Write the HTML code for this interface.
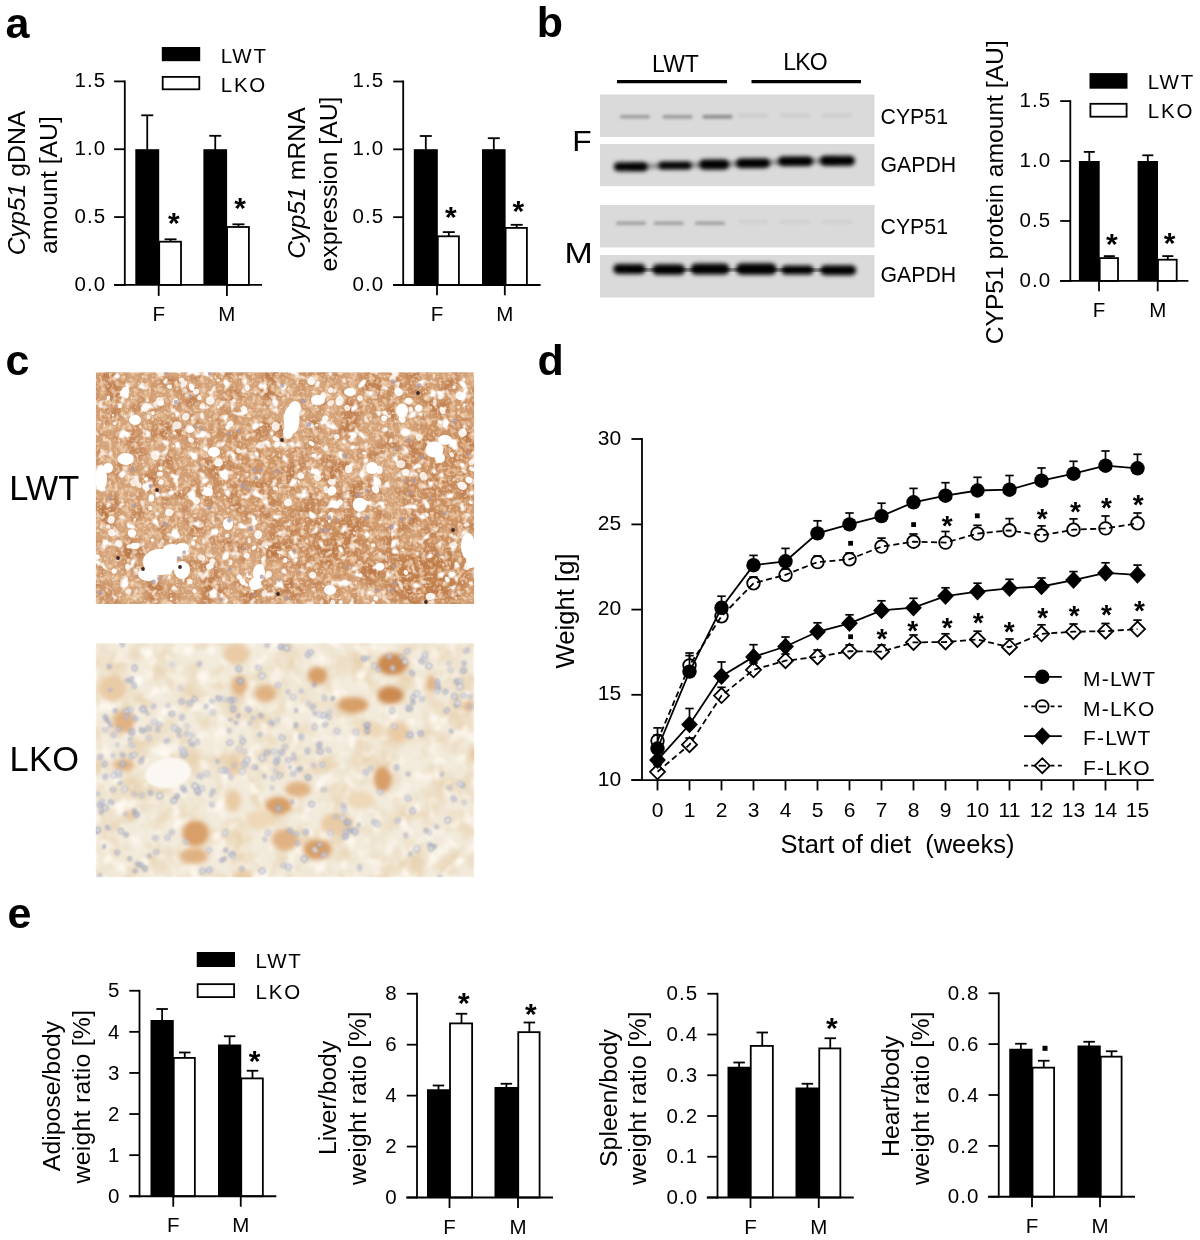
<!DOCTYPE html>
<html><head><meta charset="utf-8"><title>Figure</title>
<style>
html,body{margin:0;padding:0;background:#fff;overflow:hidden;}
svg{display:block;}
text{font-family:"Liberation Sans",Arial,sans-serif;fill:#000;}
</style></head><body>
<svg width="1200" height="1240" viewBox="0 0 1200 1240">
<defs>
<filter id="b1" x="-20%" y="-80%" width="140%" height="260%"><feGaussianBlur stdDeviation="1.9"/></filter>
<filter id="b7" x="-20%" y="-150%" width="140%" height="400%"><feGaussianBlur stdDeviation="1.7"/></filter>
<filter id="b2" x="-20%" y="-50%" width="140%" height="200%"><feGaussianBlur stdDeviation="1.2"/></filter>
<filter id="b3" x="-20%" y="-20%" width="140%" height="140%"><feGaussianBlur stdDeviation="0.7"/></filter>
<filter id="b4" x="-30%" y="-30%" width="160%" height="160%"><feGaussianBlur stdDeviation="2.2"/></filter>
<filter id="b5" x="-50%" y="-50%" width="200%" height="200%"><feGaussianBlur stdDeviation="9"/></filter>

<filter id="tw" x="0" y="0" width="100%" height="100%" color-interpolation-filters="sRGB">
<feTurbulence type="fractalNoise" baseFrequency="0.1" numOctaves="2" seed="11"/>
<feColorMatrix type="matrix" values="0 0 0 0 1  0 0 0 0 1  0 0 0 0 1  0 0 0 6 -3.55"/>
</filter>
<filter id="td" x="0" y="0" width="100%" height="100%" color-interpolation-filters="sRGB">
<feTurbulence type="fractalNoise" baseFrequency="0.05" numOctaves="2" seed="4"/>
<feColorMatrix type="matrix" values="0 0 0 0 0.74  0 0 0 0 0.48  0 0 0 0 0.29  0 0 0 2.8 -1.2"/>
</filter>
<filter id="tl" x="0" y="0" width="100%" height="100%" color-interpolation-filters="sRGB">
<feTurbulence type="fractalNoise" baseFrequency="0.16" numOctaves="2" seed="23"/>
<feColorMatrix type="matrix" values="0 0 0 0 0.93  0 0 0 0 0.80  0 0 0 0 0.67  0 0 0 3 -1.45"/>
</filter>
<filter id="tf" x="0" y="0" width="100%" height="100%" color-interpolation-filters="sRGB">
<feTurbulence type="fractalNoise" baseFrequency="0.33" numOctaves="2" seed="57"/>
<feColorMatrix type="matrix" values="0 0 0 0 1  0 0 0 0 0.94  0 0 0 0 0.87  0 0 0 2.6 -1.42"/>
</filter>
<filter id="b8" x="0" y="0" width="100%" height="100%"><feGaussianBlur stdDeviation="0.8"/></filter>
<filter id="b6" x="0" y="0" width="100%" height="100%"><feGaussianBlur stdDeviation="0.55"/></filter>
<filter id="kb" x="0" y="0" width="100%" height="100%" color-interpolation-filters="sRGB">
<feTurbulence type="fractalNoise" baseFrequency="0.04" numOctaves="3" seed="8"/>
<feColorMatrix type="matrix" values="0 0 0 0 0.91  0 0 0 0 0.83  0 0 0 0 0.70  0 0 0 2.4 -0.95"/>
</filter>
<filter id="kw" x="0" y="0" width="100%" height="100%" color-interpolation-filters="sRGB">
<feTurbulence type="fractalNoise" baseFrequency="0.07" numOctaves="2" seed="31"/>
<feColorMatrix type="matrix" values="0 0 0 0 1  0 0 0 0 0.98  0 0 0 0 0.95  0 0 0 3 -1.5"/>
</filter>

<clipPath id="cl1"><rect x="95.8" y="372.2" width="378.4" height="231.8"/></clipPath>
<clipPath id="cl2"><rect x="95.8" y="643" width="378.4" height="234.2"/></clipPath>
</defs>
<rect width="1200" height="1240" fill="#fff"/>

<text x="5.50" y="37.80" font-size="43" font-weight="bold">a</text>
<text x="536.80" y="37.30" font-size="43" font-weight="bold">b</text>
<text x="5.50" y="375.00" font-size="43" font-weight="bold">c</text>
<text x="537.60" y="375.40" font-size="43" font-weight="bold">d</text>
<text x="7.50" y="928.00" font-size="43" font-weight="bold">e</text>
<line x1="147.25" y1="115.30" x2="147.25" y2="150.20" stroke="#000" stroke-width="1.8"/>
<line x1="141.25" y1="115.30" x2="153.25" y2="115.30" stroke="#000" stroke-width="1.8"/>
<rect x="135.30" y="149.20" width="23.90" height="135.70" fill="#000"/>
<line x1="170.55" y1="239.30" x2="170.55" y2="241.80" stroke="#000" stroke-width="1.8"/>
<line x1="164.55" y1="239.30" x2="176.55" y2="239.30" stroke="#000" stroke-width="1.8"/>
<rect x="159.20" y="241.70" width="21.80" height="43.20" fill="#fff" stroke="#000" stroke-width="1.8"/>
<line x1="215.25" y1="135.80" x2="215.25" y2="150.20" stroke="#000" stroke-width="1.8"/>
<line x1="209.25" y1="135.80" x2="221.25" y2="135.80" stroke="#000" stroke-width="1.8"/>
<rect x="203.40" y="149.20" width="23.70" height="135.70" fill="#000"/>
<line x1="238.45" y1="224.30" x2="238.45" y2="227.10" stroke="#000" stroke-width="1.8"/>
<line x1="232.45" y1="224.30" x2="244.45" y2="224.30" stroke="#000" stroke-width="1.8"/>
<rect x="227.10" y="227.00" width="21.80" height="57.90" fill="#fff" stroke="#000" stroke-width="1.8"/>
<line x1="124.80" y1="80.50" x2="124.80" y2="285.80" stroke="#000" stroke-width="1.8"/>
<line x1="114.20" y1="284.90" x2="262.00" y2="284.90" stroke="#000" stroke-width="1.8"/>
<line x1="114.10" y1="284.90" x2="124.80" y2="284.90" stroke="#000" stroke-width="1.8"/>
<text x="106.40" y="290.64" font-size="20.5" text-anchor="end" letter-spacing="1.1">0.0</text>
<line x1="114.10" y1="217.07" x2="124.80" y2="217.07" stroke="#000" stroke-width="1.8"/>
<text x="106.40" y="222.81" font-size="20.5" text-anchor="end" letter-spacing="1.1">0.5</text>
<line x1="114.10" y1="149.23" x2="124.80" y2="149.23" stroke="#000" stroke-width="1.8"/>
<text x="106.40" y="154.97" font-size="20.5" text-anchor="end" letter-spacing="1.1">1.0</text>
<line x1="114.10" y1="81.40" x2="124.80" y2="81.40" stroke="#000" stroke-width="1.8"/>
<text x="106.40" y="87.14" font-size="20.5" text-anchor="end" letter-spacing="1.1">1.5</text>
<line x1="158.70" y1="284.90" x2="158.70" y2="295.90" stroke="#000" stroke-width="1.8"/>
<text x="158.70" y="321.10" font-size="20.5" text-anchor="middle">F</text>
<line x1="226.90" y1="284.90" x2="226.90" y2="295.90" stroke="#000" stroke-width="1.8"/>
<text x="226.90" y="321.10" font-size="20.5" text-anchor="middle">M</text>
<text x="173.85" y="233.40" font-size="30" text-anchor="middle" font-weight="bold">*</text>
<text x="240.05" y="218.10" font-size="30" text-anchor="middle" font-weight="bold">*</text>
<rect x="161.8" y="47" width="38.39999999999998" height="14.200000000000003" fill="#000"/>
<rect x="162.70000000000002" y="76.9" width="36.59999999999998" height="12.400000000000002" fill="#fff" stroke="#000" stroke-width="1.8"/>
<text x="220.70" y="62.60" font-size="20.5" letter-spacing="1.8">LWT</text>
<text x="220.70" y="91.60" font-size="20.5" letter-spacing="1.8">LKO</text>
<text x="24.80" y="183.00" font-size="24.8" text-anchor="middle" transform="rotate(-90 24.8 183)"><tspan font-style="italic">Cyp51</tspan> gDNA</text>
<text x="57.10" y="185.00" font-size="24.8" text-anchor="middle" transform="rotate(-90 57.1 185)">amount [AU]</text>
<line x1="425.80" y1="136.00" x2="425.80" y2="150.20" stroke="#000" stroke-width="1.8"/>
<line x1="419.80" y1="136.00" x2="431.80" y2="136.00" stroke="#000" stroke-width="1.8"/>
<rect x="413.80" y="149.20" width="24.00" height="135.80" fill="#000"/>
<line x1="448.80" y1="232.10" x2="448.80" y2="236.40" stroke="#000" stroke-width="1.8"/>
<line x1="442.80" y1="232.10" x2="454.80" y2="232.10" stroke="#000" stroke-width="1.8"/>
<rect x="437.80" y="236.30" width="21.10" height="48.70" fill="#fff" stroke="#000" stroke-width="1.8"/>
<line x1="493.80" y1="138.20" x2="493.80" y2="150.20" stroke="#000" stroke-width="1.8"/>
<line x1="487.80" y1="138.20" x2="499.80" y2="138.20" stroke="#000" stroke-width="1.8"/>
<rect x="482.00" y="149.20" width="23.60" height="135.80" fill="#000"/>
<line x1="516.70" y1="224.80" x2="516.70" y2="228.00" stroke="#000" stroke-width="1.8"/>
<line x1="510.70" y1="224.80" x2="522.70" y2="224.80" stroke="#000" stroke-width="1.8"/>
<rect x="505.60" y="227.90" width="21.30" height="57.10" fill="#fff" stroke="#000" stroke-width="1.8"/>
<line x1="403.20" y1="80.50" x2="403.20" y2="285.90" stroke="#000" stroke-width="1.8"/>
<line x1="393.20" y1="285.00" x2="540.60" y2="285.00" stroke="#000" stroke-width="1.8"/>
<line x1="393.20" y1="285.00" x2="403.20" y2="285.00" stroke="#000" stroke-width="1.8"/>
<text x="384.30" y="290.74" font-size="20.5" text-anchor="end" letter-spacing="1.1">0.0</text>
<line x1="393.20" y1="217.17" x2="403.20" y2="217.17" stroke="#000" stroke-width="1.8"/>
<text x="384.30" y="222.91" font-size="20.5" text-anchor="end" letter-spacing="1.1">0.5</text>
<line x1="393.20" y1="149.33" x2="403.20" y2="149.33" stroke="#000" stroke-width="1.8"/>
<text x="384.30" y="155.07" font-size="20.5" text-anchor="end" letter-spacing="1.1">1.0</text>
<line x1="393.20" y1="81.50" x2="403.20" y2="81.50" stroke="#000" stroke-width="1.8"/>
<text x="384.30" y="87.24" font-size="20.5" text-anchor="end" letter-spacing="1.1">1.5</text>
<line x1="437.00" y1="285.00" x2="437.00" y2="295.30" stroke="#000" stroke-width="1.8"/>
<text x="437.00" y="321.20" font-size="20.5" text-anchor="middle">F</text>
<line x1="504.80" y1="285.00" x2="504.80" y2="295.30" stroke="#000" stroke-width="1.8"/>
<text x="504.80" y="321.20" font-size="20.5" text-anchor="middle">M</text>
<text x="450.80" y="227.40" font-size="30" text-anchor="middle" font-weight="bold">*</text>
<text x="518.35" y="220.50" font-size="30" text-anchor="middle" font-weight="bold">*</text>
<text x="304.80" y="183.00" font-size="24.8" text-anchor="middle" transform="rotate(-90 304.8 183)"><tspan font-style="italic">Cyp51</tspan> mRNA</text>
<text x="337.10" y="184.00" font-size="24.8" text-anchor="middle" transform="rotate(-90 337.1 184)">expression [AU]</text>
<rect x="600" y="94.5" width="274.5" height="42.5" fill="#dadada"/>
<rect x="600" y="144" width="274.5" height="42.19999999999999" fill="#dadada"/>
<rect x="600" y="205" width="274.5" height="42.5" fill="#dadada"/>
<rect x="600" y="255" width="274.5" height="42.5" fill="#dadada"/>
<polyline points="630.75,166.75 675,165.5 714.25,164.5 753,163.25 795.5,161.25 837.5,160.75" fill="none" stroke="#8a8a8a" stroke-width="5" filter="url(#b1)"/>
<polyline points="629.5,269 668.75,269.5 710,269 756.25,269 797.5,270 838.25,270.25" fill="none" stroke="#777" stroke-width="6" filter="url(#b1)"/>
<rect x="613.8" y="162.2" width="34" height="9" rx="4.5" fill="#050505" filter="url(#b1)"/>
<rect x="658.5" y="161.8" width="33" height="7.5" rx="3.75" fill="#050505" filter="url(#b1)"/>
<rect x="699.2" y="159.5" width="30" height="10" rx="5.0" fill="#050505" filter="url(#b1)"/>
<rect x="736.0" y="158.5" width="34" height="9.5" rx="4.75" fill="#050505" filter="url(#b1)"/>
<rect x="778.0" y="156.5" width="35" height="9.5" rx="4.75" fill="#050505" filter="url(#b1)"/>
<rect x="820.0" y="155.8" width="35" height="10" rx="5.0" fill="#050505" filter="url(#b1)"/>
<rect x="613.2" y="264.0" width="32.5" height="10" rx="5.0" fill="#050505" filter="url(#b1)"/>
<rect x="652.2" y="264.2" width="33" height="10.5" rx="5.25" fill="#050505" filter="url(#b1)"/>
<rect x="690.5" y="263.5" width="39" height="11" rx="5.5" fill="#050505" filter="url(#b1)"/>
<rect x="735.8" y="263.2" width="41" height="11.5" rx="5.75" fill="#050505" filter="url(#b1)"/>
<rect x="781.2" y="265.5" width="32.5" height="9" rx="4.5" fill="#050505" filter="url(#b1)"/>
<rect x="820.2" y="265.2" width="36" height="10" rx="5.0" fill="#050505" filter="url(#b1)"/>
<rect x="620" y="115" width="30" height="3.6" rx="1.5" fill="#9c9c9c" filter="url(#b7)"/>
<rect x="662.5" y="115" width="30" height="3.6" rx="1.5" fill="#989898" filter="url(#b7)"/>
<rect x="702.5" y="115" width="30" height="3.6" rx="1.5" fill="#888" filter="url(#b7)"/>
<rect x="616" y="221.5" width="30" height="3.6" rx="1.5" fill="#a0a0a0" filter="url(#b7)"/>
<rect x="653.75" y="221.5" width="30" height="3.6" rx="1.5" fill="#a0a0a0" filter="url(#b7)"/>
<rect x="695" y="221.5" width="30" height="3.6" rx="1.5" fill="#a0a0a0" filter="url(#b7)"/>
<rect x="738" y="113.5" width="30" height="4" rx="1.5" fill="#cdcdcd" filter="url(#b7)"/>
<rect x="738" y="219.8" width="30" height="4" rx="1.5" fill="#d0d0d0" filter="url(#b7)"/>
<rect x="780" y="113.5" width="30" height="4" rx="1.5" fill="#cdcdcd" filter="url(#b7)"/>
<rect x="780" y="219.8" width="30" height="4" rx="1.5" fill="#d0d0d0" filter="url(#b7)"/>
<rect x="822" y="113.5" width="30" height="4" rx="1.5" fill="#cdcdcd" filter="url(#b7)"/>
<rect x="822" y="219.8" width="30" height="4" rx="1.5" fill="#d0d0d0" filter="url(#b7)"/>
<line x1="617.00" y1="81.70" x2="727.00" y2="81.70" stroke="#000" stroke-width="3.2"/>
<line x1="751.50" y1="81.70" x2="861.00" y2="81.70" stroke="#000" stroke-width="3.2"/>
<text x="675.50" y="72.00" font-size="23" text-anchor="middle">LWT</text>
<text x="805.00" y="70.00" font-size="23" text-anchor="middle" letter-spacing="-0.9">LKO</text>
<text x="880.50" y="124.00" font-size="21.3">CYP51</text>
<text x="880.50" y="172.00" font-size="21.3">GAPDH</text>
<text x="880.50" y="234.00" font-size="21.3">CYP51</text>
<text x="880.50" y="282.00" font-size="21.3">GAPDH</text>
<text x="572.20" y="151.20" font-size="29.5" textLength="19.4" lengthAdjust="spacingAndGlyphs">F</text>
<text x="564.50" y="262.50" font-size="29.5" textLength="28.2" lengthAdjust="spacingAndGlyphs">M</text>
<line x1="1089.30" y1="151.90" x2="1089.30" y2="162.00" stroke="#000" stroke-width="1.8"/>
<line x1="1083.80" y1="151.90" x2="1094.80" y2="151.90" stroke="#000" stroke-width="1.8"/>
<rect x="1078.90" y="161.00" width="20.80" height="119.90" fill="#000"/>
<line x1="1109.30" y1="256.10" x2="1109.30" y2="258.20" stroke="#000" stroke-width="1.8"/>
<line x1="1103.80" y1="256.10" x2="1114.80" y2="256.10" stroke="#000" stroke-width="1.8"/>
<rect x="1099.70" y="258.10" width="18.30" height="22.80" fill="#fff" stroke="#000" stroke-width="1.8"/>
<line x1="1147.80" y1="155.30" x2="1147.80" y2="162.00" stroke="#000" stroke-width="1.8"/>
<line x1="1142.30" y1="155.30" x2="1153.30" y2="155.30" stroke="#000" stroke-width="1.8"/>
<rect x="1137.60" y="161.00" width="20.40" height="119.90" fill="#000"/>
<line x1="1167.80" y1="256.10" x2="1167.80" y2="259.80" stroke="#000" stroke-width="1.8"/>
<line x1="1162.30" y1="256.10" x2="1173.30" y2="256.10" stroke="#000" stroke-width="1.8"/>
<rect x="1158.00" y="259.70" width="18.70" height="21.20" fill="#fff" stroke="#000" stroke-width="1.8"/>
<line x1="1070.30" y1="100.20" x2="1070.30" y2="281.80" stroke="#000" stroke-width="1.8"/>
<line x1="1060.20" y1="280.90" x2="1188.40" y2="280.90" stroke="#000" stroke-width="1.8"/>
<line x1="1060.20" y1="280.90" x2="1070.30" y2="280.90" stroke="#000" stroke-width="1.8"/>
<text x="1051.30" y="286.64" font-size="20.5" text-anchor="end" letter-spacing="1.1">0.0</text>
<line x1="1060.20" y1="220.97" x2="1070.30" y2="220.97" stroke="#000" stroke-width="1.8"/>
<text x="1051.30" y="226.71" font-size="20.5" text-anchor="end" letter-spacing="1.1">0.5</text>
<line x1="1060.20" y1="161.03" x2="1070.30" y2="161.03" stroke="#000" stroke-width="1.8"/>
<text x="1051.30" y="166.77" font-size="20.5" text-anchor="end" letter-spacing="1.1">1.0</text>
<line x1="1060.20" y1="101.10" x2="1070.30" y2="101.10" stroke="#000" stroke-width="1.8"/>
<text x="1051.30" y="106.84" font-size="20.5" text-anchor="end" letter-spacing="1.1">1.5</text>
<line x1="1099.00" y1="280.90" x2="1099.00" y2="291.30" stroke="#000" stroke-width="1.8"/>
<text x="1099.00" y="317.10" font-size="20.5" text-anchor="middle">F</text>
<line x1="1157.70" y1="280.90" x2="1157.70" y2="291.30" stroke="#000" stroke-width="1.8"/>
<text x="1157.70" y="317.10" font-size="20.5" text-anchor="middle">M</text>
<text x="1111.90" y="254.10" font-size="30" text-anchor="middle" font-weight="bold">*</text>
<text x="1169.70" y="253.00" font-size="30" text-anchor="middle" font-weight="bold">*</text>
<rect x="1089.5" y="73.1" width="38.0" height="15.600000000000009" fill="#000"/>
<rect x="1090.4" y="103.80000000000001" width="36.2" height="12.899999999999988" fill="#fff" stroke="#000" stroke-width="1.8"/>
<text x="1147.80" y="89.40" font-size="20.5" letter-spacing="1.8">LWT</text>
<text x="1147.80" y="118.30" font-size="20.5" letter-spacing="1.8">LKO</text>
<text x="1002.80" y="192.30" font-size="24.65" text-anchor="middle" transform="rotate(-90 1002.8 192.3)">CYP51 protein amount [AU]</text>
<text x="9.20" y="499.60" font-size="34.4">LWT</text>
<text x="9.50" y="771.40" font-size="34.4" letter-spacing="0.4">LKO</text>
<g clip-path="url(#cl1)"><g filter="url(#b6)">
<rect x="95.8" y="372.2" width="378.4" height="231.8" fill="#d5a379"/>
<ellipse cx="425" cy="575" rx="45" ry="30" fill="#b86f38" opacity="0.7" filter="url(#b5)"/>
<ellipse cx="445" cy="470" rx="30" ry="60" fill="#bf7a44" opacity="0.5" filter="url(#b5)"/>
<ellipse cx="330" cy="540" rx="50" ry="40" fill="#c07c46" opacity="0.5" filter="url(#b5)"/>
<ellipse cx="250" cy="470" rx="40" ry="40" fill="#c4834e" opacity="0.4" filter="url(#b5)"/>
<ellipse cx="400" cy="390" rx="40" ry="20" fill="#c4834e" opacity="0.4" filter="url(#b5)"/>
<rect x="95.8" y="372.2" width="378.4" height="231.8" filter="url(#td)"/>
<rect x="95.8" y="372.2" width="378.4" height="231.8" filter="url(#tl)"/>
<rect x="95.8" y="372.2" width="378.4" height="231.8" filter="url(#tf)"/>
<rect x="95.8" y="372.2" width="378.4" height="231.8" filter="url(#tw)"/>
<ellipse cx="291.5" cy="420" rx="8" ry="14" fill="#fff" filter="url(#b3)"/>
<ellipse cx="295" cy="408" rx="6" ry="7" fill="#fff" filter="url(#b3)"/>
<ellipse cx="288" cy="432" rx="5" ry="7" fill="#fff" filter="url(#b3)"/>
<ellipse cx="160" cy="562" rx="17" ry="13" fill="#fff" filter="url(#b3)"/>
<ellipse cx="172" cy="552" rx="10" ry="8" fill="#fff" filter="url(#b3)"/>
<ellipse cx="148" cy="574" rx="10" ry="7" fill="#fff" filter="url(#b3)"/>
<ellipse cx="182" cy="570" rx="8" ry="9" fill="#fff" filter="url(#b3)"/>
<ellipse cx="125.7" cy="459" rx="8" ry="6" fill="#fff" filter="url(#b3)"/>
<ellipse cx="259" cy="573" rx="6" ry="9" fill="#fff" filter="url(#b3)"/>
<ellipse cx="255" cy="584" rx="6" ry="6" fill="#fff" filter="url(#b3)"/>
<ellipse cx="434.5" cy="449.5" rx="9" ry="8" fill="#fff" filter="url(#b3)"/>
<ellipse cx="445" cy="440" rx="7" ry="5" fill="#fff" filter="url(#b3)"/>
<ellipse cx="440" cy="458" rx="5" ry="5" fill="#fff" filter="url(#b3)"/>
<ellipse cx="101" cy="478" rx="6" ry="13" fill="#fff" filter="url(#b3)"/>
<ellipse cx="108" cy="468" rx="5" ry="5" fill="#fff" filter="url(#b3)"/>
<ellipse cx="359.7" cy="504.7" rx="7" ry="7" fill="#fff" filter="url(#b3)"/>
<ellipse cx="402" cy="410.5" rx="6" ry="7" fill="#fff" filter="url(#b3)"/>
<ellipse cx="468" cy="546" rx="7" ry="13" fill="#fff" filter="url(#b3)"/>
<ellipse cx="471" cy="560" rx="5" ry="8" fill="#fff" filter="url(#b3)"/>
<ellipse cx="182" cy="548" rx="7" ry="5" fill="#fff" filter="url(#b3)"/>
<ellipse cx="318" cy="400" rx="7" ry="5" fill="#fff" filter="url(#b3)"/>
<ellipse cx="350" cy="392" rx="6" ry="4" fill="#fff" filter="url(#b3)"/>
<ellipse cx="135" cy="420" rx="6" ry="5" fill="#fff" filter="url(#b3)"/>
<ellipse cx="214" cy="452" rx="6" ry="5" fill="#fff" filter="url(#b3)"/>
<ellipse cx="372" cy="468" rx="6" ry="6" fill="#fff" filter="url(#b3)"/>
<ellipse cx="330" cy="590" rx="6" ry="5" fill="#fff" filter="url(#b3)"/>
<ellipse cx="228" cy="524" rx="5" ry="6" fill="#fff" filter="url(#b3)"/>
<ellipse cx="218.3" cy="407.2" rx="1.5" ry="1.5" fill="#fff" opacity="0.84" transform="rotate(14 218.3 407.2)"/>
<ellipse cx="440.0" cy="422.0" rx="2.5" ry="1.9" fill="#fff" opacity="0.89" transform="rotate(15 440.0 422.0)"/>
<ellipse cx="408.7" cy="400.9" rx="3.1" ry="3.9" fill="#fff" opacity="0.89" transform="rotate(101 408.7 400.9)"/>
<ellipse cx="114.6" cy="423.4" rx="1.7" ry="1.5" fill="#fff" opacity="0.89" transform="rotate(146 114.6 423.4)"/>
<ellipse cx="212.5" cy="561.4" rx="3.0" ry="3.1" fill="#fff" opacity="0.84" transform="rotate(140 212.5 561.4)"/>
<ellipse cx="365.3" cy="503.0" rx="2.7" ry="2.7" fill="#fff" opacity="0.94" transform="rotate(119 365.3 503.0)"/>
<ellipse cx="317.4" cy="477.2" rx="3.6" ry="3.9" fill="#fff" opacity="0.81" transform="rotate(147 317.4 477.2)"/>
<ellipse cx="209.4" cy="487.0" rx="2.6" ry="2.7" fill="#fff" opacity="0.77" transform="rotate(131 209.4 487.0)"/>
<ellipse cx="254.0" cy="547.7" rx="2.7" ry="1.7" fill="#fff" opacity="0.92" transform="rotate(142 254.0 547.7)"/>
<ellipse cx="312.6" cy="575.1" rx="3.3" ry="3.4" fill="#fff" opacity="0.89" transform="rotate(116 312.6 575.1)"/>
<ellipse cx="121.8" cy="393.9" rx="3.3" ry="2.1" fill="#fff" opacity="0.93" transform="rotate(79 121.8 393.9)"/>
<ellipse cx="340.7" cy="602.4" rx="2.1" ry="1.8" fill="#fff" opacity="0.92" transform="rotate(5 340.7 602.4)"/>
<ellipse cx="451.7" cy="454.6" rx="2.7" ry="2.1" fill="#fff" opacity="0.82" transform="rotate(63 451.7 454.6)"/>
<ellipse cx="246.4" cy="584.7" rx="1.8" ry="1.6" fill="#fff" opacity="0.82" transform="rotate(35 246.4 584.7)"/>
<ellipse cx="405.8" cy="572.5" rx="2.5" ry="2.1" fill="#fff" opacity="0.97" transform="rotate(59 405.8 572.5)"/>
<ellipse cx="152.9" cy="413.0" rx="2.0" ry="1.9" fill="#fff" opacity="0.90" transform="rotate(67 152.9 413.0)"/>
<ellipse cx="202.5" cy="406.0" rx="3.1" ry="2.5" fill="#fff" opacity="0.78" transform="rotate(131 202.5 406.0)"/>
<ellipse cx="268.6" cy="574.1" rx="3.3" ry="3.2" fill="#fff" opacity="0.85" transform="rotate(100 268.6 574.1)"/>
<ellipse cx="135.0" cy="519.2" rx="1.5" ry="1.1" fill="#fff" opacity="0.79" transform="rotate(87 135.0 519.2)"/>
<ellipse cx="323.1" cy="395.9" rx="2.9" ry="3.6" fill="#fff" opacity="0.90" transform="rotate(18 323.1 395.9)"/>
<ellipse cx="426.6" cy="514.5" rx="2.0" ry="1.7" fill="#fff" opacity="0.84" transform="rotate(31 426.6 514.5)"/>
<ellipse cx="139.4" cy="485.3" rx="2.7" ry="2.2" fill="#fff" opacity="0.79" transform="rotate(87 139.4 485.3)"/>
<ellipse cx="375.9" cy="483.1" rx="2.8" ry="2.1" fill="#fff" opacity="0.99" transform="rotate(92 375.9 483.1)"/>
<ellipse cx="151.3" cy="498.1" rx="2.8" ry="3.6" fill="#fff" opacity="0.97" transform="rotate(178 151.3 498.1)"/>
<ellipse cx="230.4" cy="423.8" rx="2.8" ry="2.9" fill="#fff" opacity="0.90" transform="rotate(49 230.4 423.8)"/>
<ellipse cx="181.6" cy="492.2" rx="1.4" ry="0.9" fill="#fff" opacity="0.82" transform="rotate(66 181.6 492.2)"/>
<ellipse cx="169.1" cy="512.5" rx="3.6" ry="4.0" fill="#fff" opacity="0.84" transform="rotate(93 169.1 512.5)"/>
<ellipse cx="126.3" cy="395.9" rx="2.3" ry="2.1" fill="#fff" opacity="1.00" transform="rotate(156 126.3 395.9)"/>
<ellipse cx="398.4" cy="391.9" rx="3.9" ry="4.5" fill="#fff" opacity="0.94" transform="rotate(122 398.4 391.9)"/>
<ellipse cx="128.6" cy="591.5" rx="2.6" ry="3.0" fill="#fff" opacity="0.77" transform="rotate(40 128.6 591.5)"/>
<ellipse cx="160.1" cy="401.6" rx="3.9" ry="4.6" fill="#fff" opacity="0.79" transform="rotate(152 160.1 401.6)"/>
<ellipse cx="466.7" cy="524.6" rx="2.9" ry="2.0" fill="#fff" opacity="0.75" transform="rotate(166 466.7 524.6)"/>
<ellipse cx="134.7" cy="545.9" rx="4.2" ry="3.1" fill="#fff" opacity="0.97" transform="rotate(7 134.7 545.9)"/>
<ellipse cx="191.1" cy="440.1" rx="3.0" ry="2.3" fill="#fff" opacity="0.85" transform="rotate(33 191.1 440.1)"/>
<ellipse cx="118.8" cy="543.7" rx="3.2" ry="3.8" fill="#fff" opacity="0.88" transform="rotate(128 118.8 543.7)"/>
<ellipse cx="145.3" cy="407.4" rx="3.8" ry="4.4" fill="#fff" opacity="0.90" transform="rotate(38 145.3 407.4)"/>
<ellipse cx="161.0" cy="482.0" rx="2.9" ry="2.4" fill="#fff" opacity="0.88" transform="rotate(142 161.0 482.0)"/>
<ellipse cx="278.4" cy="552.2" rx="1.5" ry="1.1" fill="#fff" opacity="0.76" transform="rotate(25 278.4 552.2)"/>
<ellipse cx="287.9" cy="502.4" rx="3.9" ry="3.6" fill="#fff" opacity="0.90" transform="rotate(129 287.9 502.4)"/>
<ellipse cx="325.2" cy="418.4" rx="2.8" ry="3.2" fill="#fff" opacity="0.88" transform="rotate(63 325.2 418.4)"/>
<ellipse cx="360.4" cy="575.4" rx="2.1" ry="2.0" fill="#fff" opacity="0.99" transform="rotate(114 360.4 575.4)"/>
<ellipse cx="147.7" cy="400.4" rx="1.5" ry="1.2" fill="#fff" opacity="0.77" transform="rotate(171 147.7 400.4)"/>
<ellipse cx="210.4" cy="400.6" rx="4.0" ry="4.2" fill="#fff" opacity="0.84" transform="rotate(64 210.4 400.6)"/>
<ellipse cx="429.9" cy="596.5" rx="4.1" ry="3.6" fill="#fff" opacity="0.87" transform="rotate(170 429.9 596.5)"/>
<ellipse cx="410.8" cy="409.6" rx="2.8" ry="2.3" fill="#fff" opacity="0.80" transform="rotate(81 410.8 409.6)"/>
<ellipse cx="130.7" cy="457.0" rx="2.6" ry="2.9" fill="#fff" opacity="0.85" transform="rotate(132 130.7 457.0)"/>
<ellipse cx="331.9" cy="490.9" rx="4.2" ry="4.8" fill="#fff" opacity="0.99" transform="rotate(26 331.9 490.9)"/>
<ellipse cx="127.6" cy="435.2" rx="1.8" ry="2.1" fill="#fff" opacity="0.95" transform="rotate(173 127.6 435.2)"/>
<ellipse cx="405.7" cy="432.1" rx="4.0" ry="4.0" fill="#fff" opacity="0.93" transform="rotate(22 405.7 432.1)"/>
<ellipse cx="201.4" cy="557.5" rx="3.9" ry="3.1" fill="#fff" opacity="0.75" transform="rotate(22 201.4 557.5)"/>
<ellipse cx="399.1" cy="391.6" rx="1.5" ry="1.8" fill="#fff" opacity="0.86" transform="rotate(86 399.1 391.6)"/>
<ellipse cx="472.0" cy="469.0" rx="3.1" ry="2.0" fill="#fff" opacity="0.93" transform="rotate(28 472.0 469.0)"/>
<ellipse cx="462.6" cy="432.9" rx="4.0" ry="4.2" fill="#fff" opacity="0.88" transform="rotate(52 462.6 432.9)"/>
<ellipse cx="205.5" cy="488.1" rx="2.3" ry="1.4" fill="#fff" opacity="0.81" transform="rotate(3 205.5 488.1)"/>
<ellipse cx="102.8" cy="489.4" rx="2.8" ry="2.2" fill="#fff" opacity="0.86" transform="rotate(168 102.8 489.4)"/>
<ellipse cx="405.7" cy="472.4" rx="3.7" ry="3.3" fill="#fff" opacity="0.88" transform="rotate(176 405.7 472.4)"/>
<ellipse cx="177.2" cy="425.4" rx="3.9" ry="4.3" fill="#fff" opacity="0.78" transform="rotate(88 177.2 425.4)"/>
<ellipse cx="467.3" cy="566.2" rx="3.1" ry="3.8" fill="#fff" opacity="0.86" transform="rotate(14 467.3 566.2)"/>
<ellipse cx="127.8" cy="567.2" rx="3.2" ry="2.6" fill="#fff" opacity="0.81" transform="rotate(75 127.8 567.2)"/>
<ellipse cx="112.9" cy="415.2" rx="1.3" ry="1.1" fill="#fff" opacity="0.83" transform="rotate(140 112.9 415.2)"/>
<ellipse cx="218.2" cy="380.2" rx="1.9" ry="1.4" fill="#fff" opacity="0.83" transform="rotate(21 218.2 380.2)"/>
<ellipse cx="275.4" cy="488.7" rx="2.8" ry="1.7" fill="#fff" opacity="0.82" transform="rotate(22 275.4 488.7)"/>
<ellipse cx="150.2" cy="508.2" rx="2.2" ry="2.3" fill="#fff" opacity="0.77" transform="rotate(135 150.2 508.2)"/>
<ellipse cx="418.7" cy="408.2" rx="3.6" ry="3.6" fill="#fff" opacity="0.94" transform="rotate(126 418.7 408.2)"/>
<ellipse cx="152.4" cy="540.1" rx="1.4" ry="1.7" fill="#fff" opacity="0.97" transform="rotate(160 152.4 540.1)"/>
<ellipse cx="258.2" cy="534.7" rx="3.9" ry="4.4" fill="#fff" opacity="0.89" transform="rotate(4 258.2 534.7)"/>
<ellipse cx="354.2" cy="532.9" rx="1.4" ry="1.0" fill="#fff" opacity="0.84" transform="rotate(26 354.2 532.9)"/>
<ellipse cx="238.3" cy="476.8" rx="1.4" ry="1.3" fill="#fff" opacity="0.81" transform="rotate(67 238.3 476.8)"/>
<ellipse cx="97.1" cy="557.1" rx="2.8" ry="2.7" fill="#fff" opacity="0.91" transform="rotate(16 97.1 557.1)"/>
<ellipse cx="378.0" cy="482.0" rx="3.8" ry="2.9" fill="#fff" opacity="0.94" transform="rotate(59 378.0 482.0)"/>
<ellipse cx="375.8" cy="598.4" rx="2.4" ry="2.3" fill="#fff" opacity="0.92" transform="rotate(11 375.8 598.4)"/>
<ellipse cx="329.3" cy="521.2" rx="1.7" ry="1.3" fill="#fff" opacity="0.94" transform="rotate(77 329.3 521.2)"/>
<ellipse cx="330.8" cy="403.1" rx="2.7" ry="3.5" fill="#fff" opacity="0.77" transform="rotate(55 330.8 403.1)"/>
<ellipse cx="351.5" cy="439.6" rx="2.6" ry="2.5" fill="#fff" opacity="0.78" transform="rotate(140 351.5 439.6)"/>
<ellipse cx="171.2" cy="598.9" rx="1.4" ry="1.2" fill="#fff" opacity="0.95" transform="rotate(115 171.2 598.9)"/>
<ellipse cx="471.9" cy="461.9" rx="4.0" ry="2.6" fill="#fff" opacity="0.77" transform="rotate(134 471.9 461.9)"/>
<ellipse cx="194.9" cy="455.5" rx="3.1" ry="2.5" fill="#fff" opacity="0.78" transform="rotate(93 194.9 455.5)"/>
<ellipse cx="183.4" cy="580.3" rx="1.4" ry="0.8" fill="#fff" opacity="0.87" transform="rotate(115 183.4 580.3)"/>
<ellipse cx="249.2" cy="540.8" rx="2.4" ry="1.6" fill="#fff" opacity="0.83" transform="rotate(83 249.2 540.8)"/>
<ellipse cx="379.9" cy="566.7" rx="4.0" ry="4.4" fill="#fff" opacity="0.98" transform="rotate(74 379.9 566.7)"/>
<ellipse cx="191.6" cy="387.3" rx="3.8" ry="2.5" fill="#fff" opacity="0.98" transform="rotate(70 191.6 387.3)"/>
<ellipse cx="419.1" cy="437.3" rx="3.2" ry="3.4" fill="#fff" opacity="0.79" transform="rotate(68 419.1 437.3)"/>
<ellipse cx="260.9" cy="445.4" rx="3.6" ry="3.2" fill="#fff" opacity="0.76" transform="rotate(161 260.9 445.4)"/>
<ellipse cx="247.2" cy="575.2" rx="1.9" ry="1.2" fill="#fff" opacity="0.98" transform="rotate(105 247.2 575.2)"/>
<ellipse cx="266.4" cy="546.7" rx="2.1" ry="1.4" fill="#fff" opacity="0.98" transform="rotate(32 266.4 546.7)"/>
<ellipse cx="160.4" cy="468.4" rx="2.0" ry="2.3" fill="#fff" opacity="0.91" transform="rotate(103 160.4 468.4)"/>
<ellipse cx="344.0" cy="441.9" rx="2.4" ry="1.8" fill="#fff" opacity="0.79" transform="rotate(53 344.0 441.9)"/>
<ellipse cx="285.2" cy="560.4" rx="2.6" ry="2.2" fill="#fff" opacity="0.94" transform="rotate(109 285.2 560.4)"/>
<ellipse cx="148.6" cy="416.8" rx="2.3" ry="1.5" fill="#fff" opacity="0.81" transform="rotate(66 148.6 416.8)"/>
<ellipse cx="402.1" cy="419.1" rx="3.8" ry="3.3" fill="#fff" opacity="0.94" transform="rotate(53 402.1 419.1)"/>
<ellipse cx="238.4" cy="450.6" rx="2.1" ry="2.7" fill="#fff" opacity="0.78" transform="rotate(128 238.4 450.6)"/>
<ellipse cx="296.1" cy="555.4" rx="1.6" ry="1.9" fill="#fff" opacity="0.85" transform="rotate(165 296.1 555.4)"/>
<ellipse cx="264.5" cy="593.3" rx="3.8" ry="2.4" fill="#fff" opacity="0.76" transform="rotate(121 264.5 593.3)"/>
<ellipse cx="462.2" cy="485.7" rx="4.0" ry="5.0" fill="#fff" opacity="0.88" transform="rotate(119 462.2 485.7)"/>
<ellipse cx="463.7" cy="429.8" rx="1.7" ry="1.7" fill="#fff" opacity="0.92" transform="rotate(179 463.7 429.8)"/>
<ellipse cx="340.8" cy="549.5" rx="2.9" ry="1.8" fill="#fff" opacity="0.95" transform="rotate(59 340.8 549.5)"/>
<ellipse cx="311.3" cy="380.9" rx="4.1" ry="4.2" fill="#fff" opacity="0.88" transform="rotate(111 311.3 380.9)"/>
<ellipse cx="360.1" cy="398.2" rx="2.8" ry="2.8" fill="#fff" opacity="0.85" transform="rotate(57 360.1 398.2)"/>
<ellipse cx="394.9" cy="372.5" rx="4.2" ry="3.3" fill="#fff" opacity="0.83" transform="rotate(62 394.9 372.5)"/>
<ellipse cx="275.7" cy="426.6" rx="4.1" ry="4.5" fill="#fff" opacity="0.83" transform="rotate(5 275.7 426.6)"/>
<ellipse cx="169.3" cy="577.3" rx="1.5" ry="1.2" fill="#fff" opacity="0.86" transform="rotate(94 169.3 577.3)"/>
<ellipse cx="181.6" cy="380.1" rx="2.5" ry="2.7" fill="#fff" opacity="0.80" transform="rotate(74 181.6 380.1)"/>
<ellipse cx="375.5" cy="489.2" rx="4.1" ry="3.4" fill="#fff" opacity="0.96" transform="rotate(59 375.5 489.2)"/>
<ellipse cx="271.8" cy="433.6" rx="1.6" ry="1.7" fill="#fff" opacity="0.90" transform="rotate(57 271.8 433.6)"/>
<ellipse cx="279.3" cy="583.2" rx="3.0" ry="3.8" fill="#fff" opacity="0.76" transform="rotate(6 279.3 583.2)"/>
<ellipse cx="464.4" cy="405.1" rx="1.5" ry="1.3" fill="#fff" opacity="0.97" transform="rotate(80 464.4 405.1)"/>
<ellipse cx="373.1" cy="603.4" rx="2.3" ry="1.6" fill="#fff" opacity="0.98" transform="rotate(119 373.1 603.4)"/>
<ellipse cx="107.9" cy="526.2" rx="2.4" ry="2.0" fill="#fff" opacity="0.79" transform="rotate(0 107.9 526.2)"/>
<ellipse cx="125.4" cy="390.9" rx="3.9" ry="3.8" fill="#fff" opacity="0.94" transform="rotate(97 125.4 390.9)"/>
<ellipse cx="230.7" cy="562.6" rx="2.6" ry="1.6" fill="#fff" opacity="0.87" transform="rotate(95 230.7 562.6)"/>
<ellipse cx="300.7" cy="475.7" rx="3.4" ry="3.2" fill="#fff" opacity="0.91" transform="rotate(63 300.7 475.7)"/>
<ellipse cx="403.0" cy="549.9" rx="1.4" ry="0.9" fill="#fff" opacity="0.98" transform="rotate(65 403.0 549.9)"/>
<ellipse cx="169.6" cy="386.8" rx="2.4" ry="2.0" fill="#fff" opacity="0.99" transform="rotate(11 169.6 386.8)"/>
<ellipse cx="195.0" cy="538.3" rx="2.1" ry="1.3" fill="#fff" opacity="0.94" transform="rotate(162 195.0 538.3)"/>
<ellipse cx="454.0" cy="387.3" rx="1.6" ry="1.8" fill="#fff" opacity="0.87" transform="rotate(98 454.0 387.3)"/>
<ellipse cx="146.0" cy="487.3" rx="4.0" ry="3.2" fill="#fff" opacity="0.92" transform="rotate(38 146.0 487.3)"/>
<ellipse cx="325.6" cy="448.2" rx="2.3" ry="2.7" fill="#fff" opacity="0.77" transform="rotate(50 325.6 448.2)"/>
<ellipse cx="244.0" cy="409.3" rx="3.2" ry="3.0" fill="#fff" opacity="0.89" transform="rotate(41 244.0 409.3)"/>
<ellipse cx="196.0" cy="391.7" rx="2.7" ry="3.0" fill="#fff" opacity="0.86" transform="rotate(59 196.0 391.7)"/>
<ellipse cx="146.1" cy="479.0" rx="2.0" ry="1.9" fill="#fff" opacity="0.94" transform="rotate(31 146.1 479.0)"/>
<ellipse cx="390.9" cy="440.3" rx="2.1" ry="1.6" fill="#fff" opacity="0.82" transform="rotate(112 390.9 440.3)"/>
<ellipse cx="189.4" cy="429.1" rx="3.9" ry="3.9" fill="#fff" opacity="0.83" transform="rotate(101 189.4 429.1)"/>
<ellipse cx="191.0" cy="429.2" rx="3.2" ry="2.1" fill="#fff" opacity="0.87" transform="rotate(9 191.0 429.2)"/>
<ellipse cx="134.5" cy="482.3" rx="3.7" ry="4.6" fill="#fff" opacity="0.76" transform="rotate(75 134.5 482.3)"/>
<ellipse cx="183.9" cy="383.9" rx="3.7" ry="2.7" fill="#fff" opacity="0.77" transform="rotate(131 183.9 383.9)"/>
<ellipse cx="423.5" cy="476.3" rx="3.6" ry="4.5" fill="#fff" opacity="0.78" transform="rotate(152 423.5 476.3)"/>
<ellipse cx="364.4" cy="453.3" rx="2.3" ry="1.4" fill="#fff" opacity="1.00" transform="rotate(9 364.4 453.3)"/>
<ellipse cx="322.6" cy="523.3" rx="1.3" ry="1.1" fill="#fff" opacity="0.92" transform="rotate(47 322.6 523.3)"/>
<ellipse cx="330.8" cy="390.3" rx="2.7" ry="2.6" fill="#fff" opacity="0.85" transform="rotate(101 330.8 390.3)"/>
<ellipse cx="347.1" cy="408.0" rx="3.2" ry="2.8" fill="#fff" opacity="0.82" transform="rotate(72 347.1 408.0)"/>
<ellipse cx="348.5" cy="469.1" rx="3.5" ry="4.2" fill="#fff" opacity="0.85" transform="rotate(4 348.5 469.1)"/>
<ellipse cx="170.4" cy="541.0" rx="1.3" ry="1.6" fill="#fff" opacity="0.86" transform="rotate(23 170.4 541.0)"/>
<ellipse cx="249.5" cy="576.8" rx="1.8" ry="1.1" fill="#fff" opacity="0.89" transform="rotate(164 249.5 576.8)"/>
<ellipse cx="401.0" cy="464.2" rx="4.0" ry="4.5" fill="#fff" opacity="0.79" transform="rotate(89 401.0 464.2)"/>
<ellipse cx="203.0" cy="493.0" rx="1.6" ry="1.5" fill="#fff" opacity="0.95" transform="rotate(50 203.0 493.0)"/>
<ellipse cx="209.9" cy="566.3" rx="3.9" ry="3.2" fill="#fff" opacity="0.90" transform="rotate(162 209.9 566.3)"/>
<ellipse cx="242.6" cy="581.8" rx="3.7" ry="2.6" fill="#fff" opacity="0.95" transform="rotate(56 242.6 581.8)"/>
<ellipse cx="330.8" cy="514.7" rx="2.7" ry="2.7" fill="#fff" opacity="0.76" transform="rotate(132 330.8 514.7)"/>
<ellipse cx="155.0" cy="455.5" rx="4.1" ry="4.8" fill="#fff" opacity="0.80" transform="rotate(143 155.0 455.5)"/>
<ellipse cx="218.5" cy="462.6" rx="3.8" ry="4.3" fill="#fff" opacity="0.91" transform="rotate(78 218.5 462.6)"/>
<ellipse cx="316.3" cy="470.9" rx="2.6" ry="2.4" fill="#fff" opacity="0.76" transform="rotate(158 316.3 470.9)"/>
<ellipse cx="469.0" cy="480.1" rx="3.1" ry="3.6" fill="#fff" opacity="0.96" transform="rotate(121 469.0 480.1)"/>
<ellipse cx="247.3" cy="387.8" rx="2.4" ry="2.7" fill="#fff" opacity="0.88" transform="rotate(168 247.3 387.8)"/>
<ellipse cx="111.2" cy="519.7" rx="3.4" ry="3.9" fill="#fff" opacity="0.88" transform="rotate(13 111.2 519.7)"/>
<ellipse cx="392.6" cy="378.2" rx="3.1" ry="3.3" fill="#fff" opacity="0.78" transform="rotate(33 392.6 378.2)"/>
<ellipse cx="442.4" cy="410.5" rx="4.0" ry="2.6" fill="#fff" opacity="0.84" transform="rotate(64 442.4 410.5)"/>
<ellipse cx="155.9" cy="580.0" rx="3.7" ry="2.6" fill="#fff" opacity="0.88" transform="rotate(122 155.9 580.0)"/>
<ellipse cx="174.6" cy="433.1" rx="2.2" ry="1.4" fill="#fff" opacity="0.80" transform="rotate(41 174.6 433.1)"/>
<ellipse cx="336.7" cy="436.7" rx="2.4" ry="2.8" fill="#fff" opacity="0.82" transform="rotate(135 336.7 436.7)"/>
<ellipse cx="114.2" cy="571.2" rx="2.6" ry="2.5" fill="#fff" opacity="0.92" transform="rotate(26 114.2 571.2)"/>
<ellipse cx="191.2" cy="496.4" rx="3.4" ry="3.0" fill="#fff" opacity="0.84" transform="rotate(94 191.2 496.4)"/>
<ellipse cx="314.3" cy="455.7" rx="2.6" ry="1.9" fill="#fff" opacity="0.94" transform="rotate(12 314.3 455.7)"/>
<ellipse cx="208.0" cy="491.8" rx="4.1" ry="5.0" fill="#fff" opacity="0.98" transform="rotate(80 208.0 491.8)"/>
<ellipse cx="373.2" cy="545.4" rx="2.1" ry="2.2" fill="#fff" opacity="0.85" transform="rotate(93 373.2 545.4)"/>
<ellipse cx="434.7" cy="402.8" rx="3.2" ry="2.0" fill="#fff" opacity="0.75" transform="rotate(90 434.7 402.8)"/>
<ellipse cx="210.7" cy="493.5" rx="2.5" ry="2.0" fill="#fff" opacity="0.78" transform="rotate(93 210.7 493.5)"/>
<ellipse cx="331.9" cy="482.3" rx="4.0" ry="3.1" fill="#fff" opacity="0.79" transform="rotate(24 331.9 482.3)"/>
<ellipse cx="119.9" cy="405.7" rx="2.1" ry="2.4" fill="#fff" opacity="0.99" transform="rotate(14 119.9 405.7)"/>
<ellipse cx="339.8" cy="502.5" rx="3.2" ry="2.9" fill="#fff" opacity="0.98" transform="rotate(126 339.8 502.5)"/>
<ellipse cx="189.8" cy="581.6" rx="2.8" ry="2.5" fill="#fff" opacity="0.81" transform="rotate(14 189.8 581.6)"/>
<ellipse cx="440.8" cy="396.5" rx="3.2" ry="2.4" fill="#fff" opacity="0.85" transform="rotate(132 440.8 396.5)"/>
<ellipse cx="325.9" cy="489.7" rx="3.7" ry="2.6" fill="#fff" opacity="0.83" transform="rotate(76 325.9 489.7)"/>
<ellipse cx="332.7" cy="602.6" rx="2.7" ry="2.6" fill="#fff" opacity="0.84" transform="rotate(111 332.7 602.6)"/>
<ellipse cx="377.8" cy="480.0" rx="2.6" ry="2.0" fill="#fff" opacity="0.78" transform="rotate(59 377.8 480.0)"/>
<ellipse cx="339.5" cy="400.8" rx="4.0" ry="5.0" fill="#fff" opacity="0.82" transform="rotate(13 339.5 400.8)"/>
<ellipse cx="196.4" cy="500.6" rx="3.6" ry="3.5" fill="#fff" opacity="0.82" transform="rotate(164 196.4 500.6)"/>
<ellipse cx="447.2" cy="579.5" rx="2.8" ry="2.0" fill="#fff" opacity="0.98" transform="rotate(51 447.2 579.5)"/>
<ellipse cx="453.3" cy="545.2" rx="3.9" ry="3.2" fill="#fff" opacity="0.81" transform="rotate(161 453.3 545.2)"/>
<ellipse cx="298.8" cy="481.6" rx="1.3" ry="0.8" fill="#fff" opacity="0.99" transform="rotate(59 298.8 481.6)"/>
<ellipse cx="311.6" cy="443.5" rx="3.1" ry="2.0" fill="#fff" opacity="0.98" transform="rotate(37 311.6 443.5)"/>
<ellipse cx="108.3" cy="398.1" rx="1.8" ry="2.3" fill="#fff" opacity="0.93" transform="rotate(7 108.3 398.1)"/>
<ellipse cx="111.6" cy="532.8" rx="3.3" ry="3.7" fill="#fff" opacity="0.77" transform="rotate(151 111.6 532.8)"/>
<ellipse cx="384.1" cy="418.4" rx="2.8" ry="3.0" fill="#fff" opacity="0.97" transform="rotate(98 384.1 418.4)"/>
<ellipse cx="136.3" cy="419.9" rx="1.4" ry="1.7" fill="#fff" opacity="0.95" transform="rotate(162 136.3 419.9)"/>
<ellipse cx="128.9" cy="546.4" rx="2.7" ry="1.9" fill="#fff" opacity="0.95" transform="rotate(165 128.9 546.4)"/>
<ellipse cx="173.4" cy="446.2" rx="1.4" ry="1.1" fill="#fff" opacity="0.82" transform="rotate(94 173.4 446.2)"/>
<ellipse cx="275.9" cy="438.9" rx="3.6" ry="2.2" fill="#fff" opacity="0.88" transform="rotate(25 275.9 438.9)"/>
<ellipse cx="227.0" cy="535.5" rx="1.9" ry="2.3" fill="#fff" opacity="0.77" transform="rotate(73 227.0 535.5)"/>
<ellipse cx="160.3" cy="372.5" rx="3.5" ry="4.5" fill="#fff" opacity="0.75" transform="rotate(125 160.3 372.5)"/>
<ellipse cx="132.0" cy="533.3" rx="4.1" ry="4.2" fill="#fff" opacity="0.99" transform="rotate(131 132.0 533.3)"/>
<ellipse cx="194.4" cy="591.0" rx="1.9" ry="2.1" fill="#fff" opacity="0.87" transform="rotate(28 194.4 591.0)"/>
<ellipse cx="470.8" cy="502.3" rx="2.2" ry="1.5" fill="#fff" opacity="0.98" transform="rotate(22 470.8 502.3)"/>
<ellipse cx="255.5" cy="521.9" rx="2.2" ry="2.0" fill="#fff" opacity="0.89" transform="rotate(43 255.5 521.9)"/>
<ellipse cx="239.3" cy="577.1" rx="2.6" ry="2.6" fill="#fff" opacity="0.94" transform="rotate(154 239.3 577.1)"/>
<ellipse cx="340.4" cy="453.0" rx="1.8" ry="2.1" fill="#fff" opacity="0.92" transform="rotate(82 340.4 453.0)"/>
<ellipse cx="160.0" cy="473.9" rx="3.0" ry="2.1" fill="#fff" opacity="0.87" transform="rotate(178 160.0 473.9)"/>
<ellipse cx="185.8" cy="416.6" rx="3.3" ry="4.0" fill="#fff" opacity="0.79" transform="rotate(39 185.8 416.6)"/>
<ellipse cx="227.7" cy="427.0" rx="2.1" ry="2.6" fill="#fff" opacity="1.00" transform="rotate(42 227.7 427.0)"/>
<ellipse cx="460.0" cy="395.8" rx="4.2" ry="4.8" fill="#fff" opacity="0.93" transform="rotate(111 460.0 395.8)"/>
<ellipse cx="199.4" cy="397.5" rx="2.1" ry="2.6" fill="#fff" opacity="0.87" transform="rotate(3 199.4 397.5)"/>
<ellipse cx="246.8" cy="555.6" rx="2.8" ry="2.9" fill="#fff" opacity="0.87" transform="rotate(36 246.8 555.6)"/>
<ellipse cx="193.1" cy="543.3" rx="2.0" ry="2.4" fill="#fff" opacity="0.93" transform="rotate(150 193.1 543.3)"/>
<ellipse cx="379.3" cy="469.8" rx="3.4" ry="4.1" fill="#fff" opacity="0.94" transform="rotate(179 379.3 469.8)"/>
<ellipse cx="316.7" cy="425.2" rx="1.7" ry="1.5" fill="#fff" opacity="0.81" transform="rotate(179 316.7 425.2)"/>
<circle cx="132.8" cy="469.5" r="2.4" fill="#a89aa8" opacity="0.75"/>
<circle cx="365.7" cy="518.1" r="1.9" fill="#a89aa8" opacity="0.75"/>
<circle cx="256.1" cy="477.7" r="2.2" fill="#a89aa8" opacity="0.75"/>
<circle cx="250.7" cy="528.7" r="2.5" fill="#a89aa8" opacity="0.75"/>
<circle cx="165.1" cy="523.9" r="2.4" fill="#a89aa8" opacity="0.75"/>
<circle cx="242.9" cy="485.7" r="2.6" fill="#a89aa8" opacity="0.75"/>
<circle cx="110.2" cy="498.2" r="1.8" fill="#a89aa8" opacity="0.75"/>
<circle cx="391.6" cy="590.2" r="2.1" fill="#a89aa8" opacity="0.75"/>
<circle cx="134.1" cy="505.4" r="2.1" fill="#a89aa8" opacity="0.75"/>
<circle cx="367.2" cy="490.9" r="2.2" fill="#a89aa8" opacity="0.75"/>
<circle cx="409.5" cy="493.1" r="2.0" fill="#a89aa8" opacity="0.75"/>
<circle cx="454.5" cy="420.9" r="2.3" fill="#a89aa8" opacity="0.75"/>
<circle cx="244.3" cy="549.0" r="1.7" fill="#a89aa8" opacity="0.75"/>
<circle cx="468.3" cy="454.6" r="1.7" fill="#a89aa8" opacity="0.75"/>
<circle cx="199.6" cy="464.8" r="1.6" fill="#a89aa8" opacity="0.75"/>
<circle cx="254.2" cy="469.7" r="2.3" fill="#a89aa8" opacity="0.75"/>
<circle cx="229.0" cy="433.7" r="1.8" fill="#a89aa8" opacity="0.75"/>
<circle cx="376.4" cy="590.1" r="2.1" fill="#a89aa8" opacity="0.75"/>
<circle cx="178.6" cy="558.0" r="2.0" fill="#a89aa8" opacity="0.75"/>
<circle cx="176.0" cy="402.2" r="2.4" fill="#a89aa8" opacity="0.75"/>
<circle cx="402.1" cy="519.2" r="2.1" fill="#a89aa8" opacity="0.75"/>
<circle cx="308.5" cy="424.6" r="2.6" fill="#a89aa8" opacity="0.75"/>
<circle cx="229.4" cy="520.3" r="2.4" fill="#a89aa8" opacity="0.75"/>
<circle cx="404.6" cy="480.7" r="1.9" fill="#a89aa8" opacity="0.75"/>
<circle cx="303.3" cy="401.2" r="2.4" fill="#a89aa8" opacity="0.75"/>
<circle cx="230.0" cy="569.4" r="1.9" fill="#a89aa8" opacity="0.75"/>
<circle cx="238.1" cy="431.0" r="2.0" fill="#a89aa8" opacity="0.75"/>
<circle cx="166.1" cy="372.8" r="2.3" fill="#a89aa8" opacity="0.75"/>
<circle cx="202.2" cy="429.0" r="1.9" fill="#a89aa8" opacity="0.75"/>
<circle cx="277.3" cy="471.5" r="2.2" fill="#a89aa8" opacity="0.75"/>
<circle cx="345.3" cy="456.2" r="2.5" fill="#a89aa8" opacity="0.75"/>
<circle cx="419.1" cy="385.4" r="2.4" fill="#a89aa8" opacity="0.75"/>
<circle cx="438.6" cy="553.9" r="1.7" fill="#a89aa8" opacity="0.75"/>
<circle cx="410.4" cy="519.0" r="1.6" fill="#a89aa8" opacity="0.75"/>
<circle cx="100.1" cy="592.8" r="2.3" fill="#a89aa8" opacity="0.75"/>
<circle cx="190.4" cy="395.7" r="1.7" fill="#a89aa8" opacity="0.75"/>
<circle cx="184.2" cy="552.1" r="1.9" fill="#a89aa8" opacity="0.75"/>
<circle cx="153.6" cy="581.8" r="2.4" fill="#a89aa8" opacity="0.75"/>
<circle cx="159.3" cy="578.8" r="2.2" fill="#a89aa8" opacity="0.75"/>
<circle cx="391.4" cy="527.1" r="2.5" fill="#a89aa8" opacity="0.75"/>
<circle cx="394.0" cy="566.6" r="1.8" fill="#a89aa8" opacity="0.75"/>
<circle cx="358.0" cy="495.2" r="2.3" fill="#a89aa8" opacity="0.75"/>
<circle cx="261.8" cy="576.8" r="2.2" fill="#a89aa8" opacity="0.75"/>
<circle cx="195.9" cy="426.5" r="1.7" fill="#a89aa8" opacity="0.75"/>
<circle cx="282.4" cy="385.7" r="2.1" fill="#a89aa8" opacity="0.75"/>
<circle cx="150.4" cy="486.1" r="2.1" fill="#a89aa8" opacity="0.75"/>
<circle cx="300.0" cy="572.2" r="1.6" fill="#a89aa8" opacity="0.75"/>
<circle cx="413.9" cy="480.7" r="2.2" fill="#a89aa8" opacity="0.75"/>
<circle cx="347.5" cy="567.0" r="2.0" fill="#a89aa8" opacity="0.75"/>
<circle cx="254.3" cy="594.9" r="1.7" fill="#a89aa8" opacity="0.75"/>
<circle cx="336.9" cy="519.7" r="1.6" fill="#a89aa8" opacity="0.75"/>
<circle cx="326.5" cy="530.4" r="2.5" fill="#a89aa8" opacity="0.75"/>
<circle cx="220.8" cy="599.8" r="2.1" fill="#a89aa8" opacity="0.75"/>
<circle cx="279.2" cy="580.3" r="1.6" fill="#a89aa8" opacity="0.75"/>
<circle cx="367.6" cy="517.1" r="1.9" fill="#a89aa8" opacity="0.75"/>
<circle cx="421.9" cy="457.1" r="2.1" fill="#a89aa8" opacity="0.75"/>
<circle cx="294.7" cy="550.8" r="1.8" fill="#a89aa8" opacity="0.75"/>
<circle cx="260.5" cy="470.1" r="2.2" fill="#a89aa8" opacity="0.75"/>
<circle cx="408.6" cy="440.1" r="2.4" fill="#a89aa8" opacity="0.75"/>
<circle cx="248.6" cy="489.0" r="1.9" fill="#a89aa8" opacity="0.75"/>
<circle cx="287.4" cy="598.2" r="2.3" fill="#a89aa8" opacity="0.75"/>
<circle cx="395.5" cy="448.9" r="1.9" fill="#a89aa8" opacity="0.75"/>
<circle cx="209.0" cy="508.1" r="2.2" fill="#a89aa8" opacity="0.75"/>
<circle cx="392.5" cy="381.5" r="2.3" fill="#a89aa8" opacity="0.75"/>
<circle cx="430.9" cy="498.6" r="1.6" fill="#a89aa8" opacity="0.75"/>
<circle cx="209.5" cy="373.6" r="1.8" fill="#a89aa8" opacity="0.75"/>
<circle cx="444.5" cy="513.3" r="2.3" fill="#a89aa8" opacity="0.75"/>
<circle cx="394.4" cy="583.1" r="2.2" fill="#a89aa8" opacity="0.75"/>
<circle cx="329.2" cy="517.5" r="2.3" fill="#a89aa8" opacity="0.75"/>
<circle cx="321.4" cy="530.1" r="1.8" fill="#a89aa8" opacity="0.75"/>
<circle cx="282" cy="440" r="1.9" fill="#3a2a2a"/>
<circle cx="118" cy="558" r="1.9" fill="#3a2a2a"/>
<circle cx="180" cy="567" r="1.9" fill="#3a2a2a"/>
<circle cx="143" cy="569" r="1.9" fill="#3a2a2a"/>
<circle cx="418" cy="393" r="1.9" fill="#3a2a2a"/>
<circle cx="453" cy="530" r="1.9" fill="#3a2a2a"/>
<circle cx="426" cy="602" r="1.9" fill="#3a2a2a"/>
<circle cx="278" cy="594" r="1.9" fill="#3a2a2a"/>
<circle cx="157" cy="490" r="1.9" fill="#3a2a2a"/>
</g></g>
<g clip-path="url(#cl2)"><g filter="url(#b8)">
<rect x="95.8" y="643" width="378.4" height="234.20000000000005" fill="#f2eadb"/>
<rect x="95.8" y="643" width="378.4" height="234.20000000000005" filter="url(#kb)"/>
<rect x="95.8" y="643" width="378.4" height="234.20000000000005" filter="url(#kw)"/>
<ellipse cx="392.2" cy="664.2" rx="15" ry="11" fill="#cc8a50" filter="url(#b4)"/>
<ellipse cx="390.6" cy="695.1" rx="13" ry="9" fill="#cc8a50" filter="url(#b4)"/>
<ellipse cx="353.2" cy="704.9" rx="15" ry="8" fill="#d89f68" filter="url(#b4)"/>
<ellipse cx="317.5" cy="675.6" rx="10" ry="9" fill="#d89f68" filter="url(#b4)"/>
<ellipse cx="236.2" cy="654.5" rx="13" ry="10" fill="#e9cba5" filter="url(#b4)"/>
<ellipse cx="239.5" cy="685.4" rx="8" ry="10" fill="#e0b283" filter="url(#b4)"/>
<ellipse cx="265.5" cy="693.5" rx="11" ry="9" fill="#e0b283" filter="url(#b4)"/>
<ellipse cx="112.7" cy="688.6" rx="14" ry="13" fill="#e9cba5" filter="url(#b4)"/>
<ellipse cx="124.1" cy="721.1" rx="11" ry="11" fill="#e0b283" filter="url(#b4)"/>
<ellipse cx="124.1" cy="765" rx="11" ry="6" fill="#e0b283" filter="url(#b4)"/>
<ellipse cx="234.6" cy="766.6" rx="6" ry="10" fill="#e9cba5" filter="url(#b4)"/>
<ellipse cx="382.5" cy="779.6" rx="9" ry="13" fill="#d89f68" filter="url(#b4)"/>
<ellipse cx="298" cy="789.4" rx="13" ry="8" fill="#e0b283" filter="url(#b4)"/>
<ellipse cx="278.5" cy="805.6" rx="13" ry="9" fill="#d89f68" filter="url(#b4)"/>
<ellipse cx="233" cy="800.7" rx="8" ry="11" fill="#e9cba5" filter="url(#b4)"/>
<ellipse cx="195.6" cy="833.2" rx="13" ry="13" fill="#d89f68" filter="url(#b4)"/>
<ellipse cx="194" cy="856" rx="14" ry="8" fill="#e0b283" filter="url(#b4)"/>
<ellipse cx="285" cy="839.7" rx="13" ry="11" fill="#e0b283" filter="url(#b4)"/>
<ellipse cx="317.5" cy="849.5" rx="14" ry="10" fill="#d89f68" filter="url(#b4)"/>
<ellipse cx="337" cy="823.5" rx="16" ry="11" fill="#e9cba5" filter="url(#b4)"/>
<ellipse cx="398.7" cy="732.5" rx="11" ry="10" fill="#e9cba5" filter="url(#b4)"/>
<ellipse cx="369.5" cy="729.2" rx="13" ry="8" fill="#eed8b8" filter="url(#b4)"/>
<ellipse cx="431.2" cy="683.7" rx="5" ry="8" fill="#e0b283" filter="url(#b4)"/>
<ellipse cx="468.6" cy="706.5" rx="6" ry="5" fill="#e0b283" filter="url(#b4)"/>
<ellipse cx="473.5" cy="753.6" rx="5" ry="8" fill="#e9cba5" filter="url(#b4)"/>
<ellipse cx="130.6" cy="815.4" rx="6" ry="6" fill="#e9cba5" filter="url(#b4)"/>
<ellipse cx="242.7" cy="875.5" rx="10" ry="5" fill="#e9cba5" filter="url(#b4)"/>
<ellipse cx="260" cy="820" rx="14" ry="10" fill="#eed8b8" filter="url(#b4)"/>
<ellipse cx="360" cy="800" rx="14" ry="9" fill="#eed8b8" filter="url(#b4)"/>
<ellipse cx="168" cy="773" rx="23" ry="15" fill="#fbf8f3" filter="url(#b3)" transform="rotate(-10 168 773)"/>
<ellipse cx="134.2" cy="685.5" rx="2.9" ry="2.4" fill="#cccede" stroke="#a6a9ba" stroke-width="1.1" opacity="0.8" transform="rotate(79 134.2 685.5)"/>
<ellipse cx="308.5" cy="703.4" rx="2.4" ry="1.7" fill="#dcdde6" stroke="#b4b6c4" stroke-width="1.1" opacity="0.8" transform="rotate(127 308.5 703.4)"/>
<ellipse cx="310.5" cy="652.2" rx="3.0" ry="2.5" fill="#dcdde6" stroke="#8f93a8" stroke-width="1.1" opacity="0.8" transform="rotate(174 310.5 652.2)"/>
<ellipse cx="134.4" cy="793.9" rx="2.1" ry="1.8" fill="#dcdde6" stroke="#a6a9ba" stroke-width="1.1" opacity="0.8" transform="rotate(175 134.4 793.9)"/>
<ellipse cx="200.0" cy="776.3" rx="2.9" ry="2.4" fill="#cccede" stroke="#a6a9ba" stroke-width="1.1" opacity="0.8" transform="rotate(21 200.0 776.3)"/>
<ellipse cx="206.7" cy="773.6" rx="2.8" ry="2.8" fill="#dcdde6" stroke="#b4b6c4" stroke-width="1.1" opacity="0.8" transform="rotate(8 206.7 773.6)"/>
<ellipse cx="405.1" cy="661.7" rx="2.8" ry="2.9" fill="#e6e6ec" stroke="#9a9db0" stroke-width="1.1" opacity="0.8" transform="rotate(155 405.1 661.7)"/>
<ellipse cx="118.4" cy="729.1" rx="2.5" ry="1.9" fill="#dcdde6" stroke="#9a9db0" stroke-width="1.1" opacity="0.8" transform="rotate(92 118.4 729.1)"/>
<ellipse cx="456.8" cy="681.4" rx="2.5" ry="2.6" fill="#bfc2d2" stroke="#8f93a8" stroke-width="1.1" opacity="0.8" transform="rotate(74 456.8 681.4)"/>
<ellipse cx="201.7" cy="788.6" rx="2.9" ry="3.0" fill="#dcdde6" stroke="#b4b6c4" stroke-width="1.1" opacity="0.8" transform="rotate(38 201.7 788.6)"/>
<ellipse cx="323.3" cy="715.3" rx="3.1" ry="2.6" fill="#e6e6ec" stroke="#8f93a8" stroke-width="1.1" opacity="0.8" transform="rotate(154 323.3 715.3)"/>
<ellipse cx="392.1" cy="710.6" rx="3.1" ry="2.4" fill="#e6e6ec" stroke="#9a9db0" stroke-width="1.1" opacity="0.8" transform="rotate(88 392.1 710.6)"/>
<ellipse cx="298.1" cy="769.5" rx="2.4" ry="1.9" fill="#dcdde6" stroke="#9a9db0" stroke-width="1.1" opacity="0.8" transform="rotate(173 298.1 769.5)"/>
<ellipse cx="300.3" cy="768.6" rx="2.0" ry="1.8" fill="#bfc2d2" stroke="#8f93a8" stroke-width="1.1" opacity="0.8" transform="rotate(133 300.3 768.6)"/>
<ellipse cx="217.3" cy="761.5" rx="2.2" ry="1.7" fill="#bfc2d2" stroke="#a6a9ba" stroke-width="1.1" opacity="0.8" transform="rotate(92 217.3 761.5)"/>
<ellipse cx="314.5" cy="727.1" rx="3.0" ry="2.2" fill="#e6e6ec" stroke="#9a9db0" stroke-width="1.1" opacity="0.8" transform="rotate(95 314.5 727.1)"/>
<ellipse cx="126.7" cy="717.0" rx="2.3" ry="1.7" fill="#cccede" stroke="#a6a9ba" stroke-width="1.1" opacity="0.8" transform="rotate(144 126.7 717.0)"/>
<ellipse cx="279.8" cy="775.8" rx="2.9" ry="2.1" fill="#e6e6ec" stroke="#8f93a8" stroke-width="1.1" opacity="0.8" transform="rotate(151 279.8 775.8)"/>
<ellipse cx="110.1" cy="690.1" rx="2.0" ry="1.4" fill="#bfc2d2" stroke="#a6a9ba" stroke-width="1.1" opacity="0.8" transform="rotate(180 110.1 690.1)"/>
<ellipse cx="120.1" cy="783.1" rx="2.1" ry="1.6" fill="#cccede" stroke="#a6a9ba" stroke-width="1.1" opacity="0.8" transform="rotate(164 120.1 783.1)"/>
<ellipse cx="129.8" cy="858.7" rx="2.1" ry="1.8" fill="#cccede" stroke="#9a9db0" stroke-width="1.1" opacity="0.8" transform="rotate(56 129.8 858.7)"/>
<ellipse cx="118.2" cy="772.5" rx="3.1" ry="3.0" fill="#e6e6ec" stroke="#b4b6c4" stroke-width="1.1" opacity="0.8" transform="rotate(14 118.2 772.5)"/>
<ellipse cx="134.0" cy="717.4" rx="2.2" ry="2.0" fill="#e6e6ec" stroke="#b4b6c4" stroke-width="1.1" opacity="0.8" transform="rotate(167 134.0 717.4)"/>
<ellipse cx="135.7" cy="718.9" rx="2.1" ry="1.7" fill="#e6e6ec" stroke="#8f93a8" stroke-width="1.1" opacity="0.8" transform="rotate(61 135.7 718.9)"/>
<ellipse cx="155.2" cy="838.1" rx="2.7" ry="2.7" fill="#cccede" stroke="#b4b6c4" stroke-width="1.1" opacity="0.8" transform="rotate(114 155.2 838.1)"/>
<ellipse cx="217.9" cy="697.8" rx="2.4" ry="1.8" fill="#dcdde6" stroke="#b4b6c4" stroke-width="1.1" opacity="0.8" transform="rotate(46 217.9 697.8)"/>
<ellipse cx="365.9" cy="772.6" rx="3.0" ry="2.6" fill="#cccede" stroke="#b4b6c4" stroke-width="1.1" opacity="0.8" transform="rotate(39 365.9 772.6)"/>
<ellipse cx="105.4" cy="776.7" rx="2.9" ry="2.6" fill="#bfc2d2" stroke="#b4b6c4" stroke-width="1.1" opacity="0.8" transform="rotate(116 105.4 776.7)"/>
<ellipse cx="117.3" cy="852.6" rx="2.2" ry="2.2" fill="#dcdde6" stroke="#8f93a8" stroke-width="1.1" opacity="0.8" transform="rotate(65 117.3 852.6)"/>
<ellipse cx="194.8" cy="698.9" rx="2.4" ry="2.4" fill="#dcdde6" stroke="#8f93a8" stroke-width="1.1" opacity="0.8" transform="rotate(75 194.8 698.9)"/>
<ellipse cx="150.4" cy="792.8" rx="2.6" ry="2.2" fill="#bfc2d2" stroke="#9a9db0" stroke-width="1.1" opacity="0.8" transform="rotate(47 150.4 792.8)"/>
<ellipse cx="293.2" cy="697.0" rx="2.7" ry="2.7" fill="#e6e6ec" stroke="#a6a9ba" stroke-width="1.1" opacity="0.8" transform="rotate(70 293.2 697.0)"/>
<ellipse cx="99.6" cy="805.1" rx="3.0" ry="2.6" fill="#bfc2d2" stroke="#a6a9ba" stroke-width="1.1" opacity="0.8" transform="rotate(85 99.6 805.1)"/>
<ellipse cx="130.0" cy="738.9" rx="2.1" ry="1.6" fill="#bfc2d2" stroke="#b4b6c4" stroke-width="1.1" opacity="0.8" transform="rotate(9 130.0 738.9)"/>
<ellipse cx="157.7" cy="729.9" rx="1.9" ry="2.0" fill="#dcdde6" stroke="#8f93a8" stroke-width="1.1" opacity="0.8" transform="rotate(30 157.7 729.9)"/>
<ellipse cx="230.8" cy="700.3" rx="3.1" ry="2.8" fill="#dcdde6" stroke="#8f93a8" stroke-width="1.1" opacity="0.8" transform="rotate(74 230.8 700.3)"/>
<ellipse cx="290.0" cy="767.2" rx="1.9" ry="1.5" fill="#cccede" stroke="#a6a9ba" stroke-width="1.1" opacity="0.8" transform="rotate(42 290.0 767.2)"/>
<ellipse cx="313.9" cy="765.5" rx="2.0" ry="1.9" fill="#dcdde6" stroke="#a6a9ba" stroke-width="1.1" opacity="0.8" transform="rotate(69 313.9 765.5)"/>
<ellipse cx="142.4" cy="758.6" rx="2.3" ry="1.7" fill="#cccede" stroke="#a6a9ba" stroke-width="1.1" opacity="0.8" transform="rotate(138 142.4 758.6)"/>
<ellipse cx="319.7" cy="844.7" rx="2.6" ry="2.0" fill="#dcdde6" stroke="#8f93a8" stroke-width="1.1" opacity="0.8" transform="rotate(162 319.7 844.7)"/>
<ellipse cx="242.9" cy="741.5" rx="2.6" ry="2.7" fill="#dcdde6" stroke="#8f93a8" stroke-width="1.1" opacity="0.8" transform="rotate(92 242.9 741.5)"/>
<ellipse cx="223.9" cy="699.3" rx="2.5" ry="2.4" fill="#dcdde6" stroke="#b4b6c4" stroke-width="1.1" opacity="0.8" transform="rotate(83 223.9 699.3)"/>
<ellipse cx="190.1" cy="741.9" rx="2.4" ry="1.7" fill="#e6e6ec" stroke="#9a9db0" stroke-width="1.1" opacity="0.8" transform="rotate(51 190.1 741.9)"/>
<ellipse cx="286.8" cy="647.9" rx="3.2" ry="2.9" fill="#dcdde6" stroke="#8f93a8" stroke-width="1.1" opacity="0.8" transform="rotate(8 286.8 647.9)"/>
<ellipse cx="109.3" cy="666.5" rx="1.9" ry="2.0" fill="#bfc2d2" stroke="#9a9db0" stroke-width="1.1" opacity="0.8" transform="rotate(28 109.3 666.5)"/>
<ellipse cx="211.4" cy="794.6" rx="2.7" ry="1.9" fill="#cccede" stroke="#b4b6c4" stroke-width="1.1" opacity="0.8" transform="rotate(112 211.4 794.6)"/>
<ellipse cx="249.6" cy="710.5" rx="2.0" ry="2.0" fill="#cccede" stroke="#b4b6c4" stroke-width="1.1" opacity="0.8" transform="rotate(166 249.6 710.5)"/>
<ellipse cx="242.1" cy="771.5" rx="3.1" ry="2.8" fill="#e6e6ec" stroke="#b4b6c4" stroke-width="1.1" opacity="0.8" transform="rotate(79 242.1 771.5)"/>
<ellipse cx="107.5" cy="721.1" rx="2.6" ry="1.8" fill="#bfc2d2" stroke="#8f93a8" stroke-width="1.1" opacity="0.8" transform="rotate(41 107.5 721.1)"/>
<ellipse cx="421.9" cy="698.9" rx="2.5" ry="2.6" fill="#cccede" stroke="#b4b6c4" stroke-width="1.1" opacity="0.8" transform="rotate(75 421.9 698.9)"/>
<ellipse cx="325.1" cy="724.5" rx="2.6" ry="2.1" fill="#dcdde6" stroke="#8f93a8" stroke-width="1.1" opacity="0.8" transform="rotate(133 325.1 724.5)"/>
<ellipse cx="154.3" cy="721.9" rx="2.8" ry="2.7" fill="#dcdde6" stroke="#b4b6c4" stroke-width="1.1" opacity="0.8" transform="rotate(121 154.3 721.9)"/>
<ellipse cx="197.5" cy="790.7" rx="2.8" ry="2.8" fill="#dcdde6" stroke="#8f93a8" stroke-width="1.1" opacity="0.8" transform="rotate(105 197.5 790.7)"/>
<ellipse cx="239.4" cy="748.9" rx="2.8" ry="2.3" fill="#e6e6ec" stroke="#b4b6c4" stroke-width="1.1" opacity="0.8" transform="rotate(165 239.4 748.9)"/>
<ellipse cx="284.8" cy="747.0" rx="2.3" ry="2.0" fill="#e6e6ec" stroke="#9a9db0" stroke-width="1.1" opacity="0.8" transform="rotate(148 284.8 747.0)"/>
<ellipse cx="462.5" cy="785.4" rx="2.3" ry="2.4" fill="#dcdde6" stroke="#8f93a8" stroke-width="1.1" opacity="0.8" transform="rotate(6 462.5 785.4)"/>
<ellipse cx="113.8" cy="775.3" rx="3.1" ry="2.8" fill="#e6e6ec" stroke="#b4b6c4" stroke-width="1.1" opacity="0.8" transform="rotate(132 113.8 775.3)"/>
<ellipse cx="267.2" cy="645.4" rx="2.2" ry="1.8" fill="#e6e6ec" stroke="#8f93a8" stroke-width="1.1" opacity="0.8" transform="rotate(166 267.2 645.4)"/>
<ellipse cx="308.2" cy="777.4" rx="3.2" ry="2.7" fill="#bfc2d2" stroke="#8f93a8" stroke-width="1.1" opacity="0.8" transform="rotate(177 308.2 777.4)"/>
<ellipse cx="296.4" cy="834.1" rx="2.3" ry="2.3" fill="#cccede" stroke="#a6a9ba" stroke-width="1.1" opacity="0.8" transform="rotate(28 296.4 834.1)"/>
<ellipse cx="118.6" cy="775.3" rx="2.6" ry="2.5" fill="#dcdde6" stroke="#a6a9ba" stroke-width="1.1" opacity="0.8" transform="rotate(0 118.6 775.3)"/>
<ellipse cx="211.9" cy="804.8" rx="2.3" ry="2.1" fill="#dcdde6" stroke="#a6a9ba" stroke-width="1.1" opacity="0.8" transform="rotate(50 211.9 804.8)"/>
<ellipse cx="281.4" cy="752.5" rx="2.9" ry="2.8" fill="#bfc2d2" stroke="#a6a9ba" stroke-width="1.1" opacity="0.8" transform="rotate(36 281.4 752.5)"/>
<ellipse cx="366.5" cy="725.9" rx="2.2" ry="2.2" fill="#dcdde6" stroke="#a6a9ba" stroke-width="1.1" opacity="0.8" transform="rotate(89 366.5 725.9)"/>
<ellipse cx="179.1" cy="735.7" rx="2.0" ry="1.8" fill="#cccede" stroke="#a6a9ba" stroke-width="1.1" opacity="0.8" transform="rotate(57 179.1 735.7)"/>
<ellipse cx="283.3" cy="865.4" rx="2.4" ry="2.0" fill="#e6e6ec" stroke="#9a9db0" stroke-width="1.1" opacity="0.8" transform="rotate(124 283.3 865.4)"/>
<ellipse cx="104.3" cy="846.3" rx="2.1" ry="1.6" fill="#bfc2d2" stroke="#8f93a8" stroke-width="1.1" opacity="0.8" transform="rotate(101 104.3 846.3)"/>
<ellipse cx="241.7" cy="737.4" rx="2.1" ry="1.8" fill="#e6e6ec" stroke="#b4b6c4" stroke-width="1.1" opacity="0.8" transform="rotate(48 241.7 737.4)"/>
<ellipse cx="272.5" cy="723.7" rx="2.3" ry="1.9" fill="#cccede" stroke="#a6a9ba" stroke-width="1.1" opacity="0.8" transform="rotate(61 272.5 723.7)"/>
<ellipse cx="411.8" cy="672.9" rx="3.0" ry="2.3" fill="#bfc2d2" stroke="#9a9db0" stroke-width="1.1" opacity="0.8" transform="rotate(55 411.8 672.9)"/>
<ellipse cx="181.8" cy="749.0" rx="2.8" ry="2.6" fill="#e6e6ec" stroke="#b4b6c4" stroke-width="1.1" opacity="0.8" transform="rotate(150 181.8 749.0)"/>
<ellipse cx="374.3" cy="822.1" rx="2.8" ry="2.3" fill="#e6e6ec" stroke="#9a9db0" stroke-width="1.1" opacity="0.8" transform="rotate(22 374.3 822.1)"/>
<ellipse cx="358.7" cy="824.8" rx="2.1" ry="1.6" fill="#bfc2d2" stroke="#a6a9ba" stroke-width="1.1" opacity="0.8" transform="rotate(128 358.7 824.8)"/>
<ellipse cx="129.1" cy="710.6" rx="2.4" ry="2.0" fill="#e6e6ec" stroke="#b4b6c4" stroke-width="1.1" opacity="0.8" transform="rotate(160 129.1 710.6)"/>
<ellipse cx="429.8" cy="844.7" rx="2.3" ry="1.9" fill="#bfc2d2" stroke="#a6a9ba" stroke-width="1.1" opacity="0.8" transform="rotate(105 429.8 844.7)"/>
<ellipse cx="105.4" cy="807.8" rx="3.2" ry="2.6" fill="#dcdde6" stroke="#8f93a8" stroke-width="1.1" opacity="0.8" transform="rotate(46 105.4 807.8)"/>
<ellipse cx="206.1" cy="706.4" rx="2.2" ry="1.8" fill="#cccede" stroke="#a6a9ba" stroke-width="1.1" opacity="0.8" transform="rotate(110 206.1 706.4)"/>
<ellipse cx="170.8" cy="714.0" rx="2.0" ry="1.8" fill="#cccede" stroke="#b4b6c4" stroke-width="1.1" opacity="0.8" transform="rotate(144 170.8 714.0)"/>
<ellipse cx="192.2" cy="744.9" rx="2.4" ry="1.7" fill="#bfc2d2" stroke="#a6a9ba" stroke-width="1.1" opacity="0.8" transform="rotate(10 192.2 744.9)"/>
<ellipse cx="464.4" cy="802.5" rx="2.3" ry="2.2" fill="#dcdde6" stroke="#b4b6c4" stroke-width="1.1" opacity="0.8" transform="rotate(106 464.4 802.5)"/>
<ellipse cx="409.4" cy="708.8" rx="3.1" ry="2.7" fill="#bfc2d2" stroke="#8f93a8" stroke-width="1.1" opacity="0.8" transform="rotate(177 409.4 708.8)"/>
<ellipse cx="173.7" cy="800.6" rx="2.9" ry="2.8" fill="#dcdde6" stroke="#8f93a8" stroke-width="1.1" opacity="0.8" transform="rotate(179 173.7 800.6)"/>
<ellipse cx="408.0" cy="773.9" rx="2.1" ry="1.9" fill="#cccede" stroke="#9a9db0" stroke-width="1.1" opacity="0.8" transform="rotate(15 408.0 773.9)"/>
<ellipse cx="159.4" cy="724.3" rx="2.7" ry="2.0" fill="#e6e6ec" stroke="#9a9db0" stroke-width="1.1" opacity="0.8" transform="rotate(171 159.4 724.3)"/>
<ellipse cx="278.5" cy="808.3" rx="2.8" ry="2.9" fill="#bfc2d2" stroke="#9a9db0" stroke-width="1.1" opacity="0.8" transform="rotate(178 278.5 808.3)"/>
<ellipse cx="209.1" cy="850.2" rx="2.6" ry="2.4" fill="#dcdde6" stroke="#b4b6c4" stroke-width="1.1" opacity="0.8" transform="rotate(140 209.1 850.2)"/>
<ellipse cx="100.5" cy="757.0" rx="3.1" ry="2.4" fill="#bfc2d2" stroke="#b4b6c4" stroke-width="1.1" opacity="0.8" transform="rotate(114 100.5 757.0)"/>
<ellipse cx="460.2" cy="680.8" rx="2.6" ry="2.0" fill="#dcdde6" stroke="#b4b6c4" stroke-width="1.1" opacity="0.8" transform="rotate(11 460.2 680.8)"/>
<ellipse cx="99.9" cy="875.4" rx="2.0" ry="2.1" fill="#bfc2d2" stroke="#b4b6c4" stroke-width="1.1" opacity="0.8" transform="rotate(27 99.9 875.4)"/>
<ellipse cx="130.2" cy="710.0" rx="2.8" ry="2.6" fill="#dcdde6" stroke="#b4b6c4" stroke-width="1.1" opacity="0.8" transform="rotate(35 130.2 710.0)"/>
<ellipse cx="134.5" cy="811.4" rx="2.7" ry="2.1" fill="#bfc2d2" stroke="#8f93a8" stroke-width="1.1" opacity="0.8" transform="rotate(81 134.5 811.4)"/>
<ellipse cx="412.8" cy="702.4" rx="2.0" ry="2.1" fill="#cccede" stroke="#8f93a8" stroke-width="1.1" opacity="0.8" transform="rotate(126 412.8 702.4)"/>
<ellipse cx="323.8" cy="789.7" rx="2.2" ry="1.9" fill="#e6e6ec" stroke="#9a9db0" stroke-width="1.1" opacity="0.8" transform="rotate(22 323.8 789.7)"/>
<ellipse cx="178.4" cy="730.2" rx="2.7" ry="2.0" fill="#dcdde6" stroke="#8f93a8" stroke-width="1.1" opacity="0.8" transform="rotate(169 178.4 730.2)"/>
<ellipse cx="97.4" cy="831.3" rx="2.6" ry="1.9" fill="#bfc2d2" stroke="#8f93a8" stroke-width="1.1" opacity="0.8" transform="rotate(132 97.4 831.3)"/>
<ellipse cx="330.4" cy="833.0" rx="2.8" ry="2.5" fill="#e6e6ec" stroke="#b4b6c4" stroke-width="1.1" opacity="0.8" transform="rotate(94 330.4 833.0)"/>
<ellipse cx="225.7" cy="850.3" rx="2.1" ry="2.0" fill="#cccede" stroke="#8f93a8" stroke-width="1.1" opacity="0.8" transform="rotate(169 225.7 850.3)"/>
<ellipse cx="232.0" cy="699.3" rx="2.2" ry="1.7" fill="#cccede" stroke="#9a9db0" stroke-width="1.1" opacity="0.8" transform="rotate(140 232.0 699.3)"/>
<ellipse cx="352.9" cy="830.4" rx="2.6" ry="2.3" fill="#dcdde6" stroke="#a6a9ba" stroke-width="1.1" opacity="0.8" transform="rotate(117 352.9 830.4)"/>
<ellipse cx="410.0" cy="734.8" rx="3.1" ry="3.1" fill="#cccede" stroke="#8f93a8" stroke-width="1.1" opacity="0.8" transform="rotate(95 410.0 734.8)"/>
<ellipse cx="389.5" cy="656.5" rx="2.4" ry="2.3" fill="#cccede" stroke="#a6a9ba" stroke-width="1.1" opacity="0.8" transform="rotate(117 389.5 656.5)"/>
<ellipse cx="142.2" cy="730.4" rx="3.1" ry="2.2" fill="#bfc2d2" stroke="#8f93a8" stroke-width="1.1" opacity="0.8" transform="rotate(25 142.2 730.4)"/>
<ellipse cx="230.4" cy="719.7" rx="1.9" ry="1.5" fill="#cccede" stroke="#9a9db0" stroke-width="1.1" opacity="0.8" transform="rotate(177 230.4 719.7)"/>
<ellipse cx="264.9" cy="839.3" rx="2.0" ry="1.8" fill="#dcdde6" stroke="#a6a9ba" stroke-width="1.1" opacity="0.8" transform="rotate(66 264.9 839.3)"/>
<ellipse cx="355.8" cy="732.2" rx="3.0" ry="3.1" fill="#dcdde6" stroke="#b4b6c4" stroke-width="1.1" opacity="0.8" transform="rotate(6 355.8 732.2)"/>
<ellipse cx="426.2" cy="830.5" rx="2.1" ry="2.1" fill="#cccede" stroke="#8f93a8" stroke-width="1.1" opacity="0.8" transform="rotate(177 426.2 830.5)"/>
<ellipse cx="272.8" cy="778.1" rx="2.4" ry="1.9" fill="#e6e6ec" stroke="#a6a9ba" stroke-width="1.1" opacity="0.8" transform="rotate(85 272.8 778.1)"/>
<ellipse cx="181.6" cy="701.3" rx="2.7" ry="2.6" fill="#cccede" stroke="#9a9db0" stroke-width="1.1" opacity="0.8" transform="rotate(69 181.6 701.3)"/>
<ellipse cx="230.8" cy="777.3" rx="2.1" ry="2.1" fill="#dcdde6" stroke="#a6a9ba" stroke-width="1.1" opacity="0.8" transform="rotate(51 230.8 777.3)"/>
<ellipse cx="233.1" cy="708.9" rx="3.0" ry="2.8" fill="#bfc2d2" stroke="#9a9db0" stroke-width="1.1" opacity="0.8" transform="rotate(87 233.1 708.9)"/>
<ellipse cx="228.4" cy="772.0" rx="2.0" ry="1.9" fill="#e6e6ec" stroke="#b4b6c4" stroke-width="1.1" opacity="0.8" transform="rotate(128 228.4 772.0)"/>
<ellipse cx="234.8" cy="700.0" rx="2.4" ry="1.8" fill="#e6e6ec" stroke="#9a9db0" stroke-width="1.1" opacity="0.8" transform="rotate(103 234.8 700.0)"/>
<ellipse cx="264.4" cy="776.2" rx="2.1" ry="1.6" fill="#bfc2d2" stroke="#a6a9ba" stroke-width="1.1" opacity="0.8" transform="rotate(64 264.4 776.2)"/>
<ellipse cx="224.6" cy="858.8" rx="2.0" ry="1.6" fill="#bfc2d2" stroke="#9a9db0" stroke-width="1.1" opacity="0.8" transform="rotate(119 224.6 858.8)"/>
<ellipse cx="424.4" cy="658.9" rx="3.1" ry="3.1" fill="#dcdde6" stroke="#b4b6c4" stroke-width="1.1" opacity="0.8" transform="rotate(42 424.4 658.9)"/>
<ellipse cx="332.8" cy="698.5" rx="2.0" ry="1.5" fill="#bfc2d2" stroke="#8f93a8" stroke-width="1.1" opacity="0.8" transform="rotate(128 332.8 698.5)"/>
<ellipse cx="460.3" cy="783.8" rx="3.0" ry="2.8" fill="#dcdde6" stroke="#b4b6c4" stroke-width="1.1" opacity="0.8" transform="rotate(48 460.3 783.8)"/>
<ellipse cx="198.2" cy="793.5" rx="2.3" ry="1.8" fill="#bfc2d2" stroke="#a6a9ba" stroke-width="1.1" opacity="0.8" transform="rotate(6 198.2 793.5)"/>
<ellipse cx="113.0" cy="789.7" rx="2.5" ry="2.0" fill="#e6e6ec" stroke="#8f93a8" stroke-width="1.1" opacity="0.8" transform="rotate(3 113.0 789.7)"/>
<ellipse cx="105.5" cy="717.2" rx="2.3" ry="2.1" fill="#bfc2d2" stroke="#8f93a8" stroke-width="1.1" opacity="0.8" transform="rotate(40 105.5 717.2)"/>
<ellipse cx="131.2" cy="679.6" rx="2.9" ry="2.4" fill="#bfc2d2" stroke="#a6a9ba" stroke-width="1.1" opacity="0.8" transform="rotate(108 131.2 679.6)"/>
<ellipse cx="182.8" cy="787.9" rx="2.5" ry="2.4" fill="#bfc2d2" stroke="#a6a9ba" stroke-width="1.1" opacity="0.8" transform="rotate(166 182.8 787.9)"/>
<ellipse cx="470.2" cy="696.4" rx="2.0" ry="1.9" fill="#dcdde6" stroke="#a6a9ba" stroke-width="1.1" opacity="0.8" transform="rotate(15 470.2 696.4)"/>
<ellipse cx="301.4" cy="691.0" rx="2.2" ry="2.1" fill="#cccede" stroke="#b4b6c4" stroke-width="1.1" opacity="0.8" transform="rotate(41 301.4 691.0)"/>
<ellipse cx="295.8" cy="725.2" rx="2.5" ry="1.9" fill="#bfc2d2" stroke="#8f93a8" stroke-width="1.1" opacity="0.8" transform="rotate(99 295.8 725.2)"/>
<ellipse cx="136.6" cy="814.8" rx="2.7" ry="2.6" fill="#bfc2d2" stroke="#8f93a8" stroke-width="1.1" opacity="0.8" transform="rotate(15 136.6 814.8)"/>
<ellipse cx="187.3" cy="726.0" rx="2.5" ry="2.0" fill="#e6e6ec" stroke="#b4b6c4" stroke-width="1.1" opacity="0.8" transform="rotate(55 187.3 726.0)"/>
<ellipse cx="147.5" cy="713.3" rx="1.9" ry="1.4" fill="#e6e6ec" stroke="#9a9db0" stroke-width="1.1" opacity="0.8" transform="rotate(54 147.5 713.3)"/>
<ellipse cx="315.0" cy="849.8" rx="3.0" ry="2.2" fill="#e6e6ec" stroke="#b4b6c4" stroke-width="1.1" opacity="0.8" transform="rotate(46 315.0 849.8)"/>
<ellipse cx="355.1" cy="831.5" rx="3.1" ry="3.1" fill="#cccede" stroke="#9a9db0" stroke-width="1.1" opacity="0.8" transform="rotate(128 355.1 831.5)"/>
<ellipse cx="374.3" cy="665.8" rx="2.8" ry="2.4" fill="#e6e6ec" stroke="#a6a9ba" stroke-width="1.1" opacity="0.8" transform="rotate(85 374.3 665.8)"/>
<ellipse cx="466.5" cy="650.7" rx="2.9" ry="2.1" fill="#cccede" stroke="#a6a9ba" stroke-width="1.1" opacity="0.8" transform="rotate(147 466.5 650.7)"/>
<ellipse cx="258.7" cy="667.6" rx="3.2" ry="2.3" fill="#dcdde6" stroke="#b4b6c4" stroke-width="1.1" opacity="0.8" transform="rotate(30 258.7 667.6)"/>
<ellipse cx="463.6" cy="695.5" rx="2.8" ry="2.2" fill="#dcdde6" stroke="#a6a9ba" stroke-width="1.1" opacity="0.8" transform="rotate(11 463.6 695.5)"/>
<ellipse cx="456.0" cy="705.6" rx="2.0" ry="1.7" fill="#bfc2d2" stroke="#8f93a8" stroke-width="1.1" opacity="0.8" transform="rotate(176 456.0 705.6)"/>
<ellipse cx="197.4" cy="741.8" rx="2.4" ry="2.0" fill="#e6e6ec" stroke="#9a9db0" stroke-width="1.1" opacity="0.8" transform="rotate(104 197.4 741.8)"/>
<ellipse cx="408.2" cy="798.4" rx="2.7" ry="2.8" fill="#dcdde6" stroke="#a6a9ba" stroke-width="1.1" opacity="0.8" transform="rotate(103 408.2 798.4)"/>
<ellipse cx="184.5" cy="790.4" rx="2.4" ry="2.0" fill="#bfc2d2" stroke="#a6a9ba" stroke-width="1.1" opacity="0.8" transform="rotate(156 184.5 790.4)"/>
<ellipse cx="345.4" cy="836.5" rx="2.9" ry="3.0" fill="#bfc2d2" stroke="#9a9db0" stroke-width="1.1" opacity="0.8" transform="rotate(67 345.4 836.5)"/>
<ellipse cx="293.3" cy="754.6" rx="2.1" ry="1.8" fill="#cccede" stroke="#b4b6c4" stroke-width="1.1" opacity="0.8" transform="rotate(93 293.3 754.6)"/>
<ellipse cx="434.1" cy="846.2" rx="2.4" ry="1.8" fill="#cccede" stroke="#8f93a8" stroke-width="1.1" opacity="0.8" transform="rotate(179 434.1 846.2)"/>
<ellipse cx="397.9" cy="820.7" rx="2.8" ry="2.4" fill="#cccede" stroke="#b4b6c4" stroke-width="1.1" opacity="0.8" transform="rotate(159 397.9 820.7)"/>
<ellipse cx="236.1" cy="722.7" rx="1.9" ry="1.3" fill="#bfc2d2" stroke="#9a9db0" stroke-width="1.1" opacity="0.8" transform="rotate(14 236.1 722.7)"/>
<ellipse cx="319.3" cy="714.8" rx="3.1" ry="2.4" fill="#e6e6ec" stroke="#b4b6c4" stroke-width="1.1" opacity="0.8" transform="rotate(23 319.3 714.8)"/>
<ellipse cx="294.5" cy="758.6" rx="2.1" ry="1.9" fill="#bfc2d2" stroke="#b4b6c4" stroke-width="1.1" opacity="0.8" transform="rotate(11 294.5 758.6)"/>
<ellipse cx="367.3" cy="731.0" rx="2.9" ry="2.4" fill="#bfc2d2" stroke="#8f93a8" stroke-width="1.1" opacity="0.8" transform="rotate(90 367.3 731.0)"/>
<ellipse cx="186.1" cy="842.0" rx="2.7" ry="2.0" fill="#cccede" stroke="#b4b6c4" stroke-width="1.1" opacity="0.8" transform="rotate(84 186.1 842.0)"/>
<ellipse cx="421.3" cy="661.7" rx="2.4" ry="2.1" fill="#dcdde6" stroke="#8f93a8" stroke-width="1.1" opacity="0.8" transform="rotate(27 421.3 661.7)"/>
<ellipse cx="320.1" cy="751.3" rx="3.0" ry="3.1" fill="#cccede" stroke="#8f93a8" stroke-width="1.1" opacity="0.8" transform="rotate(16 320.1 751.3)"/>
<ellipse cx="262.2" cy="758.1" rx="3.0" ry="2.9" fill="#e6e6ec" stroke="#9a9db0" stroke-width="1.1" opacity="0.8" transform="rotate(138 262.2 758.1)"/>
<ellipse cx="111.2" cy="802.2" rx="2.9" ry="2.1" fill="#cccede" stroke="#8f93a8" stroke-width="1.1" opacity="0.8" transform="rotate(19 111.2 802.2)"/>
<ellipse cx="416.7" cy="693.5" rx="3.0" ry="2.8" fill="#e6e6ec" stroke="#9a9db0" stroke-width="1.1" opacity="0.8" transform="rotate(14 416.7 693.5)"/>
<ellipse cx="148.9" cy="738.3" rx="2.7" ry="2.2" fill="#dcdde6" stroke="#b4b6c4" stroke-width="1.1" opacity="0.8" transform="rotate(47 148.9 738.3)"/>
<ellipse cx="469.9" cy="707.3" rx="2.3" ry="2.2" fill="#bfc2d2" stroke="#b4b6c4" stroke-width="1.1" opacity="0.8" transform="rotate(142 469.9 707.3)"/>
<ellipse cx="211.9" cy="701.2" rx="2.5" ry="2.0" fill="#cccede" stroke="#b4b6c4" stroke-width="1.1" opacity="0.8" transform="rotate(13 211.9 701.2)"/>
<ellipse cx="344.2" cy="809.3" rx="3.1" ry="2.4" fill="#dcdde6" stroke="#b4b6c4" stroke-width="1.1" opacity="0.8" transform="rotate(80 344.2 809.3)"/>
<ellipse cx="407.4" cy="651.3" rx="2.5" ry="2.3" fill="#e6e6ec" stroke="#9a9db0" stroke-width="1.1" opacity="0.8" transform="rotate(103 407.4 651.3)"/>
<ellipse cx="117.6" cy="744.6" rx="2.0" ry="1.9" fill="#e6e6ec" stroke="#a6a9ba" stroke-width="1.1" opacity="0.8" transform="rotate(46 117.6 744.6)"/>
<ellipse cx="101.2" cy="811.9" rx="2.1" ry="2.0" fill="#bfc2d2" stroke="#9a9db0" stroke-width="1.1" opacity="0.8" transform="rotate(54 101.2 811.9)"/>
<ellipse cx="172.1" cy="664.4" rx="2.2" ry="2.1" fill="#e6e6ec" stroke="#b4b6c4" stroke-width="1.1" opacity="0.8" transform="rotate(175 172.1 664.4)"/>
<ellipse cx="453.6" cy="798.8" rx="3.2" ry="2.6" fill="#bfc2d2" stroke="#b4b6c4" stroke-width="1.1" opacity="0.8" transform="rotate(57 453.6 798.8)"/>
<ellipse cx="343.6" cy="805.6" rx="2.1" ry="1.8" fill="#e6e6ec" stroke="#9a9db0" stroke-width="1.1" opacity="0.8" transform="rotate(29 343.6 805.6)"/>
<ellipse cx="110.5" cy="725.4" rx="2.2" ry="1.7" fill="#bfc2d2" stroke="#a6a9ba" stroke-width="1.1" opacity="0.8" transform="rotate(4 110.5 725.4)"/>
<ellipse cx="131.0" cy="756.5" rx="2.7" ry="2.1" fill="#e6e6ec" stroke="#a6a9ba" stroke-width="1.1" opacity="0.8" transform="rotate(69 131.0 756.5)"/>
<ellipse cx="314.8" cy="713.2" rx="2.0" ry="1.7" fill="#cccede" stroke="#a6a9ba" stroke-width="1.1" opacity="0.8" transform="rotate(168 314.8 713.2)"/>
<ellipse cx="277.8" cy="720.2" rx="2.0" ry="2.0" fill="#e6e6ec" stroke="#b4b6c4" stroke-width="1.1" opacity="0.8" transform="rotate(24 277.8 720.2)"/>
<ellipse cx="378.4" cy="669.5" rx="2.4" ry="1.7" fill="#dcdde6" stroke="#a6a9ba" stroke-width="1.1" opacity="0.8" transform="rotate(105 378.4 669.5)"/>
<ellipse cx="229.3" cy="730.8" rx="2.1" ry="2.0" fill="#dcdde6" stroke="#9a9db0" stroke-width="1.1" opacity="0.8" transform="rotate(84 229.3 730.8)"/>
<ellipse cx="97.7" cy="794.0" rx="2.3" ry="1.7" fill="#cccede" stroke="#b4b6c4" stroke-width="1.1" opacity="0.8" transform="rotate(29 97.7 794.0)"/>
<ellipse cx="153.7" cy="706.3" rx="2.3" ry="1.8" fill="#dcdde6" stroke="#9a9db0" stroke-width="1.1" opacity="0.8" transform="rotate(129 153.7 706.3)"/>
<ellipse cx="370.7" cy="768.2" rx="2.0" ry="2.1" fill="#e6e6ec" stroke="#a6a9ba" stroke-width="1.1" opacity="0.8" transform="rotate(179 370.7 768.2)"/>
<ellipse cx="311.6" cy="804.4" rx="2.9" ry="2.9" fill="#dcdde6" stroke="#9a9db0" stroke-width="1.1" opacity="0.8" transform="rotate(108 311.6 804.4)"/>
<ellipse cx="244.6" cy="764.3" rx="3.1" ry="2.9" fill="#cccede" stroke="#a6a9ba" stroke-width="1.1" opacity="0.8" transform="rotate(59 244.6 764.3)"/>
<ellipse cx="405.8" cy="835.4" rx="2.3" ry="1.7" fill="#cccede" stroke="#a6a9ba" stroke-width="1.1" opacity="0.8" transform="rotate(77 405.8 835.4)"/>
<ellipse cx="225.2" cy="832.8" rx="3.1" ry="2.5" fill="#e6e6ec" stroke="#a6a9ba" stroke-width="1.1" opacity="0.8" transform="rotate(104 225.2 832.8)"/>
<ellipse cx="108.0" cy="827.7" rx="2.6" ry="1.9" fill="#bfc2d2" stroke="#9a9db0" stroke-width="1.1" opacity="0.8" transform="rotate(35 108.0 827.7)"/>
<ellipse cx="363.9" cy="658.7" rx="3.0" ry="2.7" fill="#bfc2d2" stroke="#a6a9ba" stroke-width="1.1" opacity="0.8" transform="rotate(17 363.9 658.7)"/>
<ellipse cx="380.2" cy="792.0" rx="2.7" ry="2.6" fill="#dcdde6" stroke="#b4b6c4" stroke-width="1.1" opacity="0.8" transform="rotate(166 380.2 792.0)"/>
<ellipse cx="367.3" cy="724.8" rx="3.2" ry="2.4" fill="#bfc2d2" stroke="#8f93a8" stroke-width="1.1" opacity="0.8" transform="rotate(13 367.3 724.8)"/>
<ellipse cx="319.2" cy="745.0" rx="2.9" ry="2.8" fill="#dcdde6" stroke="#b4b6c4" stroke-width="1.1" opacity="0.8" transform="rotate(17 319.2 745.0)"/>
<ellipse cx="413.0" cy="697.4" rx="2.5" ry="2.5" fill="#dcdde6" stroke="#9a9db0" stroke-width="1.1" opacity="0.8" transform="rotate(100 413.0 697.4)"/>
<ellipse cx="454.6" cy="696.5" rx="2.9" ry="2.9" fill="#dcdde6" stroke="#8f93a8" stroke-width="1.1" opacity="0.8" transform="rotate(76 454.6 696.5)"/>
<ellipse cx="280.9" cy="646.8" rx="3.0" ry="2.5" fill="#bfc2d2" stroke="#8f93a8" stroke-width="1.1" opacity="0.8" transform="rotate(117 280.9 646.8)"/>
<ellipse cx="244.8" cy="752.1" rx="2.3" ry="1.8" fill="#e6e6ec" stroke="#b4b6c4" stroke-width="1.1" opacity="0.8" transform="rotate(104 244.8 752.1)"/>
<ellipse cx="345.9" cy="832.0" rx="2.8" ry="2.3" fill="#cccede" stroke="#a6a9ba" stroke-width="1.1" opacity="0.8" transform="rotate(99 345.9 832.0)"/>
<ellipse cx="167.5" cy="837.5" rx="2.6" ry="2.6" fill="#dcdde6" stroke="#a6a9ba" stroke-width="1.1" opacity="0.8" transform="rotate(62 167.5 837.5)"/>
<ellipse cx="267.8" cy="832.6" rx="2.4" ry="2.5" fill="#e6e6ec" stroke="#a6a9ba" stroke-width="1.1" opacity="0.8" transform="rotate(34 267.8 832.6)"/>
<ellipse cx="124.5" cy="789.1" rx="3.1" ry="2.5" fill="#e6e6ec" stroke="#b4b6c4" stroke-width="1.1" opacity="0.8" transform="rotate(133 124.5 789.1)"/>
<ellipse cx="401.8" cy="657.0" rx="2.5" ry="1.8" fill="#dcdde6" stroke="#a6a9ba" stroke-width="1.1" opacity="0.8" transform="rotate(142 401.8 657.0)"/>
<ellipse cx="238.5" cy="715.9" rx="2.1" ry="1.5" fill="#bfc2d2" stroke="#8f93a8" stroke-width="1.1" opacity="0.8" transform="rotate(123 238.5 715.9)"/>
<ellipse cx="113.5" cy="734.9" rx="2.7" ry="2.5" fill="#cccede" stroke="#b4b6c4" stroke-width="1.1" opacity="0.8" transform="rotate(74 113.5 734.9)"/>
<ellipse cx="232.1" cy="854.4" rx="3.0" ry="3.0" fill="#bfc2d2" stroke="#8f93a8" stroke-width="1.1" opacity="0.8" transform="rotate(35 232.1 854.4)"/>
<ellipse cx="171.8" cy="832.1" rx="2.3" ry="2.2" fill="#dcdde6" stroke="#9a9db0" stroke-width="1.1" opacity="0.8" transform="rotate(150 171.8 832.1)"/>
<ellipse cx="459.9" cy="686.8" rx="3.1" ry="2.9" fill="#e6e6ec" stroke="#9a9db0" stroke-width="1.1" opacity="0.8" transform="rotate(103 459.9 686.8)"/>
<ellipse cx="241.7" cy="868.7" rx="2.2" ry="1.9" fill="#e6e6ec" stroke="#8f93a8" stroke-width="1.1" opacity="0.8" transform="rotate(163 241.7 868.7)"/>
<ellipse cx="156.3" cy="852.0" rx="2.3" ry="2.1" fill="#e6e6ec" stroke="#8f93a8" stroke-width="1.1" opacity="0.8" transform="rotate(19 156.3 852.0)"/>
<ellipse cx="296.1" cy="710.5" rx="2.2" ry="1.6" fill="#bfc2d2" stroke="#a6a9ba" stroke-width="1.1" opacity="0.8" transform="rotate(90 296.1 710.5)"/>
<ellipse cx="431.0" cy="848.1" rx="2.7" ry="2.7" fill="#dcdde6" stroke="#8f93a8" stroke-width="1.1" opacity="0.8" transform="rotate(78 431.0 848.1)"/>
<ellipse cx="247.2" cy="760.1" rx="3.0" ry="2.7" fill="#e6e6ec" stroke="#9a9db0" stroke-width="1.1" opacity="0.8" transform="rotate(171 247.2 760.1)"/>
<ellipse cx="446.7" cy="710.6" rx="2.8" ry="2.0" fill="#dcdde6" stroke="#8f93a8" stroke-width="1.1" opacity="0.8" transform="rotate(146 446.7 710.6)"/>
<ellipse cx="312.9" cy="707.1" rx="2.9" ry="2.2" fill="#cccede" stroke="#9a9db0" stroke-width="1.1" opacity="0.8" transform="rotate(128 312.9 707.1)"/>
<ellipse cx="143.1" cy="709.2" rx="3.2" ry="3.2" fill="#cccede" stroke="#8f93a8" stroke-width="1.1" opacity="0.8" transform="rotate(165 143.1 709.2)"/>
<ellipse cx="407.7" cy="706.9" rx="2.2" ry="1.8" fill="#dcdde6" stroke="#a6a9ba" stroke-width="1.1" opacity="0.8" transform="rotate(92 407.7 706.9)"/>
<ellipse cx="104.6" cy="764.1" rx="3.1" ry="2.2" fill="#cccede" stroke="#9a9db0" stroke-width="1.1" opacity="0.8" transform="rotate(114 104.6 764.1)"/>
<ellipse cx="305.8" cy="832.1" rx="3.0" ry="2.6" fill="#bfc2d2" stroke="#a6a9ba" stroke-width="1.1" opacity="0.8" transform="rotate(161 305.8 832.1)"/>
<ellipse cx="202.4" cy="871.1" rx="2.8" ry="2.7" fill="#dcdde6" stroke="#9a9db0" stroke-width="1.1" opacity="0.8" transform="rotate(129 202.4 871.1)"/>
<ellipse cx="199.4" cy="664.0" rx="2.4" ry="1.9" fill="#dcdde6" stroke="#8f93a8" stroke-width="1.1" opacity="0.8" transform="rotate(95 199.4 664.0)"/>
<ellipse cx="122.8" cy="754.9" rx="2.5" ry="1.9" fill="#cccede" stroke="#8f93a8" stroke-width="1.1" opacity="0.8" transform="rotate(28 122.8 754.9)"/>
<ellipse cx="248.2" cy="709.2" rx="2.9" ry="2.4" fill="#cccede" stroke="#a6a9ba" stroke-width="1.1" opacity="0.8" transform="rotate(180 248.2 709.2)"/>
<ellipse cx="377.0" cy="824.1" rx="2.9" ry="2.8" fill="#dcdde6" stroke="#b4b6c4" stroke-width="1.1" opacity="0.8" transform="rotate(156 377.0 824.1)"/>
<ellipse cx="368.1" cy="657.7" rx="1.9" ry="1.7" fill="#cccede" stroke="#b4b6c4" stroke-width="1.1" opacity="0.8" transform="rotate(144 368.1 657.7)"/>
<ellipse cx="134.5" cy="668.0" rx="2.9" ry="2.5" fill="#dcdde6" stroke="#8f93a8" stroke-width="1.1" opacity="0.8" transform="rotate(86 134.5 668.0)"/>
<ellipse cx="288.0" cy="692.0" rx="1.9" ry="1.8" fill="#e6e6ec" stroke="#9a9db0" stroke-width="1.1" opacity="0.8" transform="rotate(98 288.0 692.0)"/>
<ellipse cx="464.1" cy="663.2" rx="2.2" ry="2.2" fill="#bfc2d2" stroke="#a6a9ba" stroke-width="1.1" opacity="0.8" transform="rotate(159 464.1 663.2)"/>
<ellipse cx="307.5" cy="751.1" rx="3.1" ry="2.4" fill="#bfc2d2" stroke="#a6a9ba" stroke-width="1.1" opacity="0.8" transform="rotate(97 307.5 751.1)"/>
<ellipse cx="429.0" cy="666.0" rx="3.1" ry="2.7" fill="#e6e6ec" stroke="#8f93a8" stroke-width="1.1" opacity="0.8" transform="rotate(17 429.0 666.0)"/>
<ellipse cx="159.7" cy="795.7" rx="3.2" ry="3.0" fill="#e6e6ec" stroke="#8f93a8" stroke-width="1.1" opacity="0.8" transform="rotate(155 159.7 795.7)"/>
<ellipse cx="149.4" cy="855.9" rx="2.0" ry="1.9" fill="#cccede" stroke="#9a9db0" stroke-width="1.1" opacity="0.8" transform="rotate(1 149.4 855.9)"/>
<ellipse cx="335.7" cy="816.7" rx="2.0" ry="2.0" fill="#dcdde6" stroke="#9a9db0" stroke-width="1.1" opacity="0.8" transform="rotate(119 335.7 816.7)"/>
<ellipse cx="135.1" cy="870.9" rx="2.1" ry="2.0" fill="#bfc2d2" stroke="#9a9db0" stroke-width="1.1" opacity="0.8" transform="rotate(27 135.1 870.9)"/>
<ellipse cx="288.7" cy="867.1" rx="3.0" ry="3.0" fill="#dcdde6" stroke="#a6a9ba" stroke-width="1.1" opacity="0.8" transform="rotate(128 288.7 867.1)"/>
<ellipse cx="328.5" cy="750.0" rx="2.6" ry="1.9" fill="#e6e6ec" stroke="#9a9db0" stroke-width="1.1" opacity="0.8" transform="rotate(53 328.5 750.0)"/>
<ellipse cx="142.0" cy="795.2" rx="2.5" ry="2.2" fill="#dcdde6" stroke="#a6a9ba" stroke-width="1.1" opacity="0.8" transform="rotate(139 142.0 795.2)"/>
<ellipse cx="292.4" cy="801.7" rx="2.2" ry="1.6" fill="#bfc2d2" stroke="#a6a9ba" stroke-width="1.1" opacity="0.8" transform="rotate(77 292.4 801.7)"/>
<ellipse cx="212.8" cy="712.3" rx="2.6" ry="2.6" fill="#dcdde6" stroke="#b4b6c4" stroke-width="1.1" opacity="0.8" transform="rotate(20 212.8 712.3)"/>
<ellipse cx="322.4" cy="764.8" rx="2.4" ry="2.5" fill="#dcdde6" stroke="#9a9db0" stroke-width="1.1" opacity="0.8" transform="rotate(5 322.4 764.8)"/>
<ellipse cx="412.6" cy="810.8" rx="2.8" ry="2.7" fill="#dcdde6" stroke="#8f93a8" stroke-width="1.1" opacity="0.8" transform="rotate(46 412.6 810.8)"/>
<ellipse cx="329.9" cy="711.7" rx="2.1" ry="2.1" fill="#dcdde6" stroke="#b4b6c4" stroke-width="1.1" opacity="0.8" transform="rotate(83 329.9 711.7)"/>
<ellipse cx="240.5" cy="681.0" rx="3.1" ry="3.0" fill="#bfc2d2" stroke="#8f93a8" stroke-width="1.1" opacity="0.8" transform="rotate(70 240.5 681.0)"/>
<ellipse cx="224.7" cy="770.4" rx="3.0" ry="2.9" fill="#cccede" stroke="#a6a9ba" stroke-width="1.1" opacity="0.8" transform="rotate(87 224.7 770.4)"/>
<ellipse cx="396.5" cy="767.6" rx="3.0" ry="2.5" fill="#bfc2d2" stroke="#b4b6c4" stroke-width="1.1" opacity="0.8" transform="rotate(93 396.5 767.6)"/>
<ellipse cx="140.6" cy="864.9" rx="2.7" ry="2.5" fill="#bfc2d2" stroke="#9a9db0" stroke-width="1.1" opacity="0.8" transform="rotate(100 140.6 864.9)"/>
<ellipse cx="189.8" cy="703.2" rx="2.8" ry="2.6" fill="#cccede" stroke="#9a9db0" stroke-width="1.1" opacity="0.8" transform="rotate(167 189.8 703.2)"/>
<ellipse cx="125.3" cy="813.9" rx="2.0" ry="1.5" fill="#dcdde6" stroke="#a6a9ba" stroke-width="1.1" opacity="0.8" transform="rotate(126 125.3 813.9)"/>
<ellipse cx="192.3" cy="735.5" rx="2.1" ry="2.1" fill="#e6e6ec" stroke="#a6a9ba" stroke-width="1.1" opacity="0.8" transform="rotate(87 192.3 735.5)"/>
<ellipse cx="392.7" cy="668.0" rx="2.4" ry="1.9" fill="#dcdde6" stroke="#b4b6c4" stroke-width="1.1" opacity="0.8" transform="rotate(48 392.7 668.0)"/>
<ellipse cx="113.1" cy="755.7" rx="2.0" ry="1.8" fill="#cccede" stroke="#b4b6c4" stroke-width="1.1" opacity="0.8" transform="rotate(15 113.1 755.7)"/>
<ellipse cx="145.0" cy="868.6" rx="2.8" ry="2.4" fill="#bfc2d2" stroke="#9a9db0" stroke-width="1.1" opacity="0.8" transform="rotate(94 145.0 868.6)"/>
<ellipse cx="234.4" cy="765.5" rx="2.2" ry="1.8" fill="#e6e6ec" stroke="#9a9db0" stroke-width="1.1" opacity="0.8" transform="rotate(7 234.4 765.5)"/>
<ellipse cx="180.6" cy="688.4" rx="2.4" ry="1.9" fill="#e6e6ec" stroke="#b4b6c4" stroke-width="1.1" opacity="0.8" transform="rotate(67 180.6 688.4)"/>
<ellipse cx="424.9" cy="654.8" rx="3.0" ry="2.4" fill="#e6e6ec" stroke="#9a9db0" stroke-width="1.1" opacity="0.8" transform="rotate(112 424.9 654.8)"/>
<ellipse cx="282.0" cy="737.8" rx="3.1" ry="2.6" fill="#dcdde6" stroke="#9a9db0" stroke-width="1.1" opacity="0.8" transform="rotate(30 282.0 737.8)"/>
<ellipse cx="168.0" cy="705.3" rx="2.2" ry="2.0" fill="#dcdde6" stroke="#b4b6c4" stroke-width="1.1" opacity="0.8" transform="rotate(130 168.0 705.3)"/>
<ellipse cx="137.4" cy="864.0" rx="2.2" ry="1.9" fill="#bfc2d2" stroke="#9a9db0" stroke-width="1.1" opacity="0.8" transform="rotate(54 137.4 864.0)"/>
<ellipse cx="134.2" cy="754.8" rx="3.1" ry="2.3" fill="#e6e6ec" stroke="#9a9db0" stroke-width="1.1" opacity="0.8" transform="rotate(161 134.2 754.8)"/>
<ellipse cx="278.0" cy="685.1" rx="2.7" ry="2.5" fill="#dcdde6" stroke="#a6a9ba" stroke-width="1.1" opacity="0.8" transform="rotate(137 278.0 685.1)"/>
<ellipse cx="148.5" cy="728.4" rx="3.1" ry="2.9" fill="#bfc2d2" stroke="#b4b6c4" stroke-width="1.1" opacity="0.8" transform="rotate(168 148.5 728.4)"/>
<ellipse cx="437.4" cy="685.6" rx="2.7" ry="2.3" fill="#dcdde6" stroke="#a6a9ba" stroke-width="1.1" opacity="0.8" transform="rotate(73 437.4 685.6)"/>
<ellipse cx="261.9" cy="675.9" rx="2.9" ry="3.0" fill="#e6e6ec" stroke="#9a9db0" stroke-width="1.1" opacity="0.8" transform="rotate(6 261.9 675.9)"/>
<ellipse cx="184.0" cy="754.7" rx="3.1" ry="2.9" fill="#cccede" stroke="#8f93a8" stroke-width="1.1" opacity="0.8" transform="rotate(159 184.0 754.7)"/>
<ellipse cx="438.6" cy="688.1" rx="2.3" ry="1.8" fill="#bfc2d2" stroke="#8f93a8" stroke-width="1.1" opacity="0.8" transform="rotate(8 438.6 688.1)"/>
<ellipse cx="249.8" cy="723.4" rx="1.9" ry="1.9" fill="#cccede" stroke="#b4b6c4" stroke-width="1.1" opacity="0.8" transform="rotate(0 249.8 723.4)"/>
<ellipse cx="275.6" cy="771.3" rx="2.2" ry="1.8" fill="#e6e6ec" stroke="#a6a9ba" stroke-width="1.1" opacity="0.8" transform="rotate(38 275.6 771.3)"/>
<ellipse cx="440.3" cy="876.8" rx="2.3" ry="1.8" fill="#e6e6ec" stroke="#a6a9ba" stroke-width="1.1" opacity="0.8" transform="rotate(42 440.3 876.8)"/>
<ellipse cx="126.2" cy="834.9" rx="2.2" ry="2.2" fill="#bfc2d2" stroke="#9a9db0" stroke-width="1.1" opacity="0.8" transform="rotate(104 126.2 834.9)"/>
<ellipse cx="131.7" cy="745.0" rx="3.2" ry="2.3" fill="#cccede" stroke="#b4b6c4" stroke-width="1.1" opacity="0.8" transform="rotate(35 131.7 745.0)"/>
<ellipse cx="254.8" cy="767.0" rx="2.9" ry="2.5" fill="#e6e6ec" stroke="#a6a9ba" stroke-width="1.1" opacity="0.8" transform="rotate(168 254.8 767.0)"/>
<ellipse cx="293.3" cy="773.8" rx="2.7" ry="2.4" fill="#cccede" stroke="#b4b6c4" stroke-width="1.1" opacity="0.8" transform="rotate(177 293.3 773.8)"/>
<ellipse cx="457.7" cy="703.3" rx="2.8" ry="2.6" fill="#e6e6ec" stroke="#a6a9ba" stroke-width="1.1" opacity="0.8" transform="rotate(54 457.7 703.3)"/>
<ellipse cx="350.1" cy="830.3" rx="2.5" ry="2.2" fill="#bfc2d2" stroke="#9a9db0" stroke-width="1.1" opacity="0.8" transform="rotate(59 350.1 830.3)"/>
<ellipse cx="301.1" cy="736.9" rx="2.9" ry="2.7" fill="#bfc2d2" stroke="#b4b6c4" stroke-width="1.1" opacity="0.8" transform="rotate(97 301.1 736.9)"/>
<ellipse cx="346.8" cy="822.6" rx="2.2" ry="2.2" fill="#dcdde6" stroke="#9a9db0" stroke-width="1.1" opacity="0.8" transform="rotate(9 346.8 822.6)"/>
<ellipse cx="221.4" cy="770.2" rx="2.9" ry="2.2" fill="#e6e6ec" stroke="#b4b6c4" stroke-width="1.1" opacity="0.8" transform="rotate(177 221.4 770.2)"/>
<ellipse cx="102.5" cy="801.3" rx="2.4" ry="2.4" fill="#cccede" stroke="#b4b6c4" stroke-width="1.1" opacity="0.8" transform="rotate(162 102.5 801.3)"/>
<ellipse cx="347.8" cy="822.6" rx="3.1" ry="2.9" fill="#bfc2d2" stroke="#8f93a8" stroke-width="1.1" opacity="0.8" transform="rotate(7 347.8 822.6)"/>
<ellipse cx="122.3" cy="644.1" rx="2.8" ry="2.1" fill="#cccede" stroke="#a6a9ba" stroke-width="1.1" opacity="0.8" transform="rotate(67 122.3 644.1)"/>
<ellipse cx="436.6" cy="826.9" rx="1.9" ry="2.0" fill="#cccede" stroke="#a6a9ba" stroke-width="1.1" opacity="0.8" transform="rotate(38 436.6 826.9)"/>
<ellipse cx="221.8" cy="860.2" rx="2.2" ry="2.1" fill="#bfc2d2" stroke="#a6a9ba" stroke-width="1.1" opacity="0.8" transform="rotate(33 221.8 860.2)"/>
<ellipse cx="307.8" cy="655.0" rx="2.8" ry="2.2" fill="#dcdde6" stroke="#8f93a8" stroke-width="1.1" opacity="0.8" transform="rotate(58 307.8 655.0)"/>
<ellipse cx="266.9" cy="752.7" rx="2.7" ry="2.4" fill="#cccede" stroke="#8f93a8" stroke-width="1.1" opacity="0.8" transform="rotate(3 266.9 752.7)"/>
<ellipse cx="256.0" cy="767.9" rx="1.9" ry="1.5" fill="#bfc2d2" stroke="#a6a9ba" stroke-width="1.1" opacity="0.8" transform="rotate(54 256.0 767.9)"/>
<ellipse cx="437.1" cy="690.9" rx="2.8" ry="2.1" fill="#dcdde6" stroke="#b4b6c4" stroke-width="1.1" opacity="0.8" transform="rotate(57 437.1 690.9)"/>
<ellipse cx="271.0" cy="722.4" rx="2.8" ry="2.3" fill="#bfc2d2" stroke="#b4b6c4" stroke-width="1.1" opacity="0.8" transform="rotate(14 271.0 722.4)"/>
<ellipse cx="218.8" cy="698.4" rx="2.7" ry="2.3" fill="#cccede" stroke="#9a9db0" stroke-width="1.1" opacity="0.8" transform="rotate(82 218.8 698.4)"/>
<ellipse cx="141.1" cy="761.7" rx="2.4" ry="2.1" fill="#dcdde6" stroke="#8f93a8" stroke-width="1.1" opacity="0.8" transform="rotate(27 141.1 761.7)"/>
<ellipse cx="121.0" cy="831.2" rx="2.5" ry="2.6" fill="#e6e6ec" stroke="#8f93a8" stroke-width="1.1" opacity="0.8" transform="rotate(180 121.0 831.2)"/>
<ellipse cx="449.2" cy="787.9" rx="2.5" ry="1.9" fill="#cccede" stroke="#b4b6c4" stroke-width="1.1" opacity="0.8" transform="rotate(16 449.2 787.9)"/>
<ellipse cx="272.1" cy="788.1" rx="2.0" ry="1.7" fill="#dcdde6" stroke="#b4b6c4" stroke-width="1.1" opacity="0.8" transform="rotate(37 272.1 788.1)"/>
<ellipse cx="115.2" cy="710.5" rx="2.1" ry="2.0" fill="#bfc2d2" stroke="#a6a9ba" stroke-width="1.1" opacity="0.8" transform="rotate(41 115.2 710.5)"/>
<ellipse cx="186.5" cy="733.6" rx="2.8" ry="2.1" fill="#cccede" stroke="#b4b6c4" stroke-width="1.1" opacity="0.8" transform="rotate(117 186.5 733.6)"/>
<ellipse cx="463.5" cy="670.4" rx="2.9" ry="2.5" fill="#cccede" stroke="#8f93a8" stroke-width="1.1" opacity="0.8" transform="rotate(154 463.5 670.4)"/>
<ellipse cx="289.9" cy="830.9" rx="2.6" ry="2.7" fill="#bfc2d2" stroke="#9a9db0" stroke-width="1.1" opacity="0.8" transform="rotate(80 289.9 830.9)"/>
<ellipse cx="166.8" cy="741.0" rx="3.0" ry="2.1" fill="#bfc2d2" stroke="#b4b6c4" stroke-width="1.1" opacity="0.8" transform="rotate(155 166.8 741.0)"/>
<ellipse cx="182.0" cy="717.4" rx="3.1" ry="2.6" fill="#bfc2d2" stroke="#b4b6c4" stroke-width="1.1" opacity="0.8" transform="rotate(100 182.0 717.4)"/>
<ellipse cx="238.9" cy="668.8" rx="3.1" ry="3.0" fill="#cccede" stroke="#8f93a8" stroke-width="1.1" opacity="0.8" transform="rotate(164 238.9 668.8)"/>
<ellipse cx="416.6" cy="848.8" rx="3.1" ry="3.1" fill="#e6e6ec" stroke="#a6a9ba" stroke-width="1.1" opacity="0.8" transform="rotate(86 416.6 848.8)"/>
<ellipse cx="273.7" cy="751.2" rx="3.0" ry="2.5" fill="#dcdde6" stroke="#b4b6c4" stroke-width="1.1" opacity="0.8" transform="rotate(25 273.7 751.2)"/>
<ellipse cx="105.5" cy="729.7" rx="2.5" ry="2.0" fill="#e6e6ec" stroke="#a6a9ba" stroke-width="1.1" opacity="0.8" transform="rotate(163 105.5 729.7)"/>
<ellipse cx="213.1" cy="791.1" rx="2.5" ry="2.4" fill="#bfc2d2" stroke="#b4b6c4" stroke-width="1.1" opacity="0.8" transform="rotate(90 213.1 791.1)"/>
<ellipse cx="174.5" cy="727.9" rx="3.1" ry="2.9" fill="#dcdde6" stroke="#a6a9ba" stroke-width="1.1" opacity="0.8" transform="rotate(118 174.5 727.9)"/>
<ellipse cx="319.4" cy="744.3" rx="2.5" ry="1.9" fill="#bfc2d2" stroke="#a6a9ba" stroke-width="1.1" opacity="0.8" transform="rotate(131 319.4 744.3)"/>
<ellipse cx="394.3" cy="726.5" rx="2.9" ry="2.2" fill="#e6e6ec" stroke="#a6a9ba" stroke-width="1.1" opacity="0.8" transform="rotate(40 394.3 726.5)"/>
<ellipse cx="172.1" cy="713.7" rx="2.9" ry="2.5" fill="#dcdde6" stroke="#9a9db0" stroke-width="1.1" opacity="0.8" transform="rotate(171 172.1 713.7)"/>
<ellipse cx="410.5" cy="853.8" rx="1.9" ry="1.9" fill="#bfc2d2" stroke="#a6a9ba" stroke-width="1.1" opacity="0.8" transform="rotate(13 410.5 853.8)"/>
<ellipse cx="445.4" cy="691.6" rx="2.6" ry="2.2" fill="#cccede" stroke="#9a9db0" stroke-width="1.1" opacity="0.8" transform="rotate(143 445.4 691.6)"/>
<ellipse cx="324.4" cy="697.8" rx="2.7" ry="2.0" fill="#dcdde6" stroke="#a6a9ba" stroke-width="1.1" opacity="0.8" transform="rotate(87 324.4 697.8)"/>
<ellipse cx="437.6" cy="681.7" rx="2.6" ry="2.3" fill="#cccede" stroke="#9a9db0" stroke-width="1.1" opacity="0.8" transform="rotate(59 437.6 681.7)"/>
<ellipse cx="323.9" cy="854.7" rx="2.7" ry="2.6" fill="#cccede" stroke="#a6a9ba" stroke-width="1.1" opacity="0.8" transform="rotate(69 323.9 854.7)"/>
<ellipse cx="252.9" cy="717.9" rx="2.2" ry="1.8" fill="#cccede" stroke="#b4b6c4" stroke-width="1.1" opacity="0.8" transform="rotate(50 252.9 717.9)"/>
<ellipse cx="260.8" cy="715.6" rx="2.5" ry="1.9" fill="#bfc2d2" stroke="#9a9db0" stroke-width="1.1" opacity="0.8" transform="rotate(31 260.8 715.6)"/>
<ellipse cx="262.2" cy="870.9" rx="3.1" ry="2.8" fill="#e6e6ec" stroke="#8f93a8" stroke-width="1.1" opacity="0.8" transform="rotate(151 262.2 870.9)"/>
<ellipse cx="288.4" cy="760.1" rx="2.4" ry="2.4" fill="#e6e6ec" stroke="#8f93a8" stroke-width="1.1" opacity="0.8" transform="rotate(25 288.4 760.1)"/>
<ellipse cx="229.8" cy="742.6" rx="2.8" ry="2.6" fill="#e6e6ec" stroke="#8f93a8" stroke-width="1.1" opacity="0.8" transform="rotate(146 229.8 742.6)"/>
<ellipse cx="276.2" cy="762.2" rx="2.8" ry="2.6" fill="#cccede" stroke="#8f93a8" stroke-width="1.1" opacity="0.8" transform="rotate(141 276.2 762.2)"/>
<ellipse cx="342.7" cy="817.9" rx="2.8" ry="2.6" fill="#e6e6ec" stroke="#b4b6c4" stroke-width="1.1" opacity="0.8" transform="rotate(83 342.7 817.9)"/>
<ellipse cx="277.3" cy="759.1" rx="3.1" ry="2.7" fill="#bfc2d2" stroke="#b4b6c4" stroke-width="1.1" opacity="0.8" transform="rotate(163 277.3 759.1)"/>
<ellipse cx="450.7" cy="670.2" rx="2.7" ry="1.9" fill="#e6e6ec" stroke="#b4b6c4" stroke-width="1.1" opacity="0.8" transform="rotate(17 450.7 670.2)"/>
<ellipse cx="233.1" cy="856.8" rx="2.3" ry="1.8" fill="#e6e6ec" stroke="#b4b6c4" stroke-width="1.1" opacity="0.8" transform="rotate(41 233.1 856.8)"/>
<ellipse cx="451.2" cy="731.4" rx="2.2" ry="1.6" fill="#cccede" stroke="#9a9db0" stroke-width="1.1" opacity="0.8" transform="rotate(56 451.2 731.4)"/>
<ellipse cx="304.3" cy="858.9" rx="3.1" ry="3.1" fill="#dcdde6" stroke="#8f93a8" stroke-width="1.1" opacity="0.8" transform="rotate(127 304.3 858.9)"/>
<ellipse cx="420.7" cy="733.3" rx="3.0" ry="2.8" fill="#bfc2d2" stroke="#9a9db0" stroke-width="1.1" opacity="0.8" transform="rotate(9 420.7 733.3)"/>
<ellipse cx="127.6" cy="680.6" rx="2.3" ry="1.7" fill="#cccede" stroke="#9a9db0" stroke-width="1.1" opacity="0.8" transform="rotate(27 127.6 680.6)"/>
<ellipse cx="260.2" cy="734.5" rx="2.2" ry="2.3" fill="#cccede" stroke="#a6a9ba" stroke-width="1.1" opacity="0.8" transform="rotate(42 260.2 734.5)"/>
<ellipse cx="442.0" cy="774.3" rx="2.1" ry="1.6" fill="#dcdde6" stroke="#8f93a8" stroke-width="1.1" opacity="0.8" transform="rotate(128 442.0 774.3)"/>
<ellipse cx="97.9" cy="829.9" rx="2.8" ry="2.6" fill="#e6e6ec" stroke="#8f93a8" stroke-width="1.1" opacity="0.8" transform="rotate(85 97.9 829.9)"/>
<ellipse cx="328.6" cy="717.1" rx="2.2" ry="2.2" fill="#dcdde6" stroke="#9a9db0" stroke-width="1.1" opacity="0.8" transform="rotate(148 328.6 717.1)"/>
<ellipse cx="195.1" cy="786.1" rx="3.0" ry="3.1" fill="#dcdde6" stroke="#8f93a8" stroke-width="1.1" opacity="0.8" transform="rotate(125 195.1 786.1)"/>
<ellipse cx="447.8" cy="820.3" rx="2.9" ry="2.9" fill="#e6e6ec" stroke="#8f93a8" stroke-width="1.1" opacity="0.8" transform="rotate(180 447.8 820.3)"/>
<ellipse cx="449.0" cy="663.4" rx="2.0" ry="2.0" fill="#e6e6ec" stroke="#b4b6c4" stroke-width="1.1" opacity="0.8" transform="rotate(113 449.0 663.4)"/>
<ellipse cx="429.8" cy="832.6" rx="2.5" ry="1.8" fill="#e6e6ec" stroke="#b4b6c4" stroke-width="1.1" opacity="0.8" transform="rotate(76 429.8 832.6)"/>
<ellipse cx="177.0" cy="796.2" rx="2.4" ry="2.3" fill="#bfc2d2" stroke="#8f93a8" stroke-width="1.1" opacity="0.8" transform="rotate(116 177.0 796.2)"/>
<ellipse cx="359.7" cy="867.4" rx="3.0" ry="2.1" fill="#cccede" stroke="#b4b6c4" stroke-width="1.1" opacity="0.8" transform="rotate(90 359.7 867.4)"/>
<ellipse cx="336.8" cy="731.2" rx="3.0" ry="2.5" fill="#dcdde6" stroke="#a6a9ba" stroke-width="1.1" opacity="0.8" transform="rotate(22 336.8 731.2)"/>
<ellipse cx="126.3" cy="711.2" rx="2.7" ry="2.5" fill="#dcdde6" stroke="#9a9db0" stroke-width="1.1" opacity="0.8" transform="rotate(165 126.3 711.2)"/>
<ellipse cx="297.5" cy="843.2" rx="2.0" ry="2.0" fill="#dcdde6" stroke="#8f93a8" stroke-width="1.1" opacity="0.8" transform="rotate(98 297.5 843.2)"/>
<ellipse cx="183.6" cy="751.5" rx="3.2" ry="2.4" fill="#dcdde6" stroke="#b4b6c4" stroke-width="1.1" opacity="0.8" transform="rotate(141 183.6 751.5)"/>
<ellipse cx="131.9" cy="731.9" rx="3.2" ry="2.9" fill="#bfc2d2" stroke="#8f93a8" stroke-width="1.1" opacity="0.8" transform="rotate(98 131.9 731.9)"/>
<ellipse cx="314.4" cy="684.7" rx="2.3" ry="1.7" fill="#bfc2d2" stroke="#8f93a8" stroke-width="1.1" opacity="0.8" transform="rotate(116 314.4 684.7)"/>
<ellipse cx="209.4" cy="870.0" rx="3.2" ry="2.7" fill="#cccede" stroke="#a6a9ba" stroke-width="1.1" opacity="0.8" transform="rotate(141 209.4 870.0)"/>
<ellipse cx="122.6" cy="763.6" rx="2.9" ry="2.7" fill="#bfc2d2" stroke="#9a9db0" stroke-width="1.1" opacity="0.8" transform="rotate(25 122.6 763.6)"/>
</g></g>
<line x1="642.00" y1="438.10" x2="642.00" y2="781.00" stroke="#000" stroke-width="1.8"/>
<line x1="631.40" y1="780.10" x2="1153.80" y2="780.10" stroke="#000" stroke-width="1.8"/>
<line x1="631.40" y1="780.10" x2="642.00" y2="780.10" stroke="#000" stroke-width="1.8"/>
<text x="621.20" y="785.70" font-size="21" text-anchor="end">10</text>
<line x1="631.40" y1="694.80" x2="642.00" y2="694.80" stroke="#000" stroke-width="1.8"/>
<text x="621.20" y="700.40" font-size="21" text-anchor="end">15</text>
<line x1="631.40" y1="609.60" x2="642.00" y2="609.60" stroke="#000" stroke-width="1.8"/>
<text x="621.20" y="615.20" font-size="21" text-anchor="end">20</text>
<line x1="631.40" y1="524.40" x2="642.00" y2="524.40" stroke="#000" stroke-width="1.8"/>
<text x="621.20" y="530.00" font-size="21" text-anchor="end">25</text>
<line x1="631.40" y1="439.00" x2="642.00" y2="439.00" stroke="#000" stroke-width="1.8"/>
<text x="621.20" y="444.60" font-size="21" text-anchor="end">30</text>
<line x1="657.50" y1="780.10" x2="657.50" y2="790.40" stroke="#000" stroke-width="1.8"/>
<text x="657.50" y="816.80" font-size="21" text-anchor="middle">0</text>
<line x1="689.50" y1="780.10" x2="689.50" y2="790.40" stroke="#000" stroke-width="1.8"/>
<text x="689.50" y="816.80" font-size="21" text-anchor="middle">1</text>
<line x1="721.50" y1="780.10" x2="721.50" y2="790.40" stroke="#000" stroke-width="1.8"/>
<text x="721.50" y="816.80" font-size="21" text-anchor="middle">2</text>
<line x1="753.50" y1="780.10" x2="753.50" y2="790.40" stroke="#000" stroke-width="1.8"/>
<text x="753.50" y="816.80" font-size="21" text-anchor="middle">3</text>
<line x1="785.50" y1="780.10" x2="785.50" y2="790.40" stroke="#000" stroke-width="1.8"/>
<text x="785.50" y="816.80" font-size="21" text-anchor="middle">4</text>
<line x1="817.50" y1="780.10" x2="817.50" y2="790.40" stroke="#000" stroke-width="1.8"/>
<text x="817.50" y="816.80" font-size="21" text-anchor="middle">5</text>
<line x1="849.50" y1="780.10" x2="849.50" y2="790.40" stroke="#000" stroke-width="1.8"/>
<text x="849.50" y="816.80" font-size="21" text-anchor="middle">6</text>
<line x1="881.50" y1="780.10" x2="881.50" y2="790.40" stroke="#000" stroke-width="1.8"/>
<text x="881.50" y="816.80" font-size="21" text-anchor="middle">7</text>
<line x1="913.50" y1="780.10" x2="913.50" y2="790.40" stroke="#000" stroke-width="1.8"/>
<text x="913.50" y="816.80" font-size="21" text-anchor="middle">8</text>
<line x1="945.50" y1="780.10" x2="945.50" y2="790.40" stroke="#000" stroke-width="1.8"/>
<text x="945.50" y="816.80" font-size="21" text-anchor="middle">9</text>
<line x1="977.50" y1="780.10" x2="977.50" y2="790.40" stroke="#000" stroke-width="1.8"/>
<text x="977.50" y="816.80" font-size="21" text-anchor="middle">10</text>
<line x1="1009.50" y1="780.10" x2="1009.50" y2="790.40" stroke="#000" stroke-width="1.8"/>
<text x="1009.50" y="816.80" font-size="21" text-anchor="middle">11</text>
<line x1="1041.50" y1="780.10" x2="1041.50" y2="790.40" stroke="#000" stroke-width="1.8"/>
<text x="1041.50" y="816.80" font-size="21" text-anchor="middle">12</text>
<line x1="1073.50" y1="780.10" x2="1073.50" y2="790.40" stroke="#000" stroke-width="1.8"/>
<text x="1073.50" y="816.80" font-size="21" text-anchor="middle">13</text>
<line x1="1105.50" y1="780.10" x2="1105.50" y2="790.40" stroke="#000" stroke-width="1.8"/>
<text x="1105.50" y="816.80" font-size="21" text-anchor="middle">14</text>
<line x1="1137.50" y1="780.10" x2="1137.50" y2="790.40" stroke="#000" stroke-width="1.8"/>
<text x="1137.50" y="816.80" font-size="21" text-anchor="middle">15</text>
<text x="897.50" y="853.00" font-size="25.5" text-anchor="middle">Start of diet&#160;&#160;(weeks)</text>
<text x="574.20" y="611.00" font-size="25.7" text-anchor="middle" transform="rotate(-90 574.2 611.0)">Weight [g]</text>
<line x1="653.30" y1="765.00" x2="661.70" y2="765.00" stroke="#000" stroke-width="1.7"/>
<line x1="685.30" y1="738.00" x2="693.70" y2="738.00" stroke="#000" stroke-width="1.7"/>
<line x1="721.50" y1="687.30" x2="721.50" y2="688.10" stroke="#000" stroke-width="1.7"/>
<line x1="717.30" y1="687.30" x2="725.70" y2="687.30" stroke="#000" stroke-width="1.7"/>
<line x1="749.30" y1="663.00" x2="757.70" y2="663.00" stroke="#000" stroke-width="1.7"/>
<line x1="781.30" y1="654.00" x2="789.70" y2="654.00" stroke="#000" stroke-width="1.7"/>
<line x1="813.30" y1="650.00" x2="821.70" y2="650.00" stroke="#000" stroke-width="1.7"/>
<line x1="845.30" y1="645.00" x2="853.70" y2="645.00" stroke="#000" stroke-width="1.7"/>
<line x1="877.30" y1="645.00" x2="885.70" y2="645.00" stroke="#000" stroke-width="1.7"/>
<line x1="909.30" y1="635.00" x2="917.70" y2="635.00" stroke="#000" stroke-width="1.7"/>
<line x1="945.50" y1="633.80" x2="945.50" y2="634.50" stroke="#000" stroke-width="1.7"/>
<line x1="941.30" y1="633.80" x2="949.70" y2="633.80" stroke="#000" stroke-width="1.7"/>
<line x1="977.50" y1="631.20" x2="977.50" y2="632.00" stroke="#000" stroke-width="1.7"/>
<line x1="973.30" y1="631.20" x2="981.70" y2="631.20" stroke="#000" stroke-width="1.7"/>
<line x1="1009.50" y1="639.00" x2="1009.50" y2="639.70" stroke="#000" stroke-width="1.7"/>
<line x1="1005.30" y1="639.00" x2="1013.70" y2="639.00" stroke="#000" stroke-width="1.7"/>
<line x1="1041.50" y1="624.80" x2="1041.50" y2="626.30" stroke="#000" stroke-width="1.7"/>
<line x1="1037.30" y1="624.80" x2="1045.70" y2="624.80" stroke="#000" stroke-width="1.7"/>
<line x1="1073.50" y1="624.00" x2="1073.50" y2="624.20" stroke="#000" stroke-width="1.7"/>
<line x1="1069.30" y1="624.00" x2="1077.70" y2="624.00" stroke="#000" stroke-width="1.7"/>
<line x1="1105.50" y1="623.50" x2="1105.50" y2="623.70" stroke="#000" stroke-width="1.7"/>
<line x1="1101.30" y1="623.50" x2="1109.70" y2="623.50" stroke="#000" stroke-width="1.7"/>
<line x1="1137.50" y1="620.10" x2="1137.50" y2="621.60" stroke="#000" stroke-width="1.7"/>
<line x1="1133.30" y1="620.10" x2="1141.70" y2="620.10" stroke="#000" stroke-width="1.7"/>
<polyline points="657.5,771.8 689.5,744.7 721.5,695.6 753.5,669.8 785.5,660.7 817.5,656.9 849.5,651.2 881.5,651.7 913.5,642.4 945.5,642 977.5,639.5 1009.5,647.2 1041.5,633.8 1073.5,631.7 1105.5,631.2 1137.5,629.1" fill="none" stroke="#000" stroke-width="1.8" stroke-dasharray="6 3.5"/>
<polygon points="650.0,771.8 657.5,764.3 665.0,771.8 657.5,779.3" fill="none" stroke="#000" stroke-width="1.8"/>
<polygon points="682.0,744.7 689.5,737.2 697.0,744.7 689.5,752.2" fill="none" stroke="#000" stroke-width="1.8"/>
<polygon points="714.0,695.6 721.5,688.1 729.0,695.6 721.5,703.1" fill="none" stroke="#000" stroke-width="1.8"/>
<polygon points="746.0,669.8 753.5,662.3 761.0,669.8 753.5,677.3" fill="none" stroke="#000" stroke-width="1.8"/>
<polygon points="778.0,660.7 785.5,653.2 793.0,660.7 785.5,668.2" fill="none" stroke="#000" stroke-width="1.8"/>
<polygon points="810.0,656.9 817.5,649.4 825.0,656.9 817.5,664.4" fill="none" stroke="#000" stroke-width="1.8"/>
<polygon points="842.0,651.2 849.5,643.7 857.0,651.2 849.5,658.7" fill="none" stroke="#000" stroke-width="1.8"/>
<polygon points="874.0,651.7 881.5,644.2 889.0,651.7 881.5,659.2" fill="none" stroke="#000" stroke-width="1.8"/>
<polygon points="906.0,642.4 913.5,634.9 921.0,642.4 913.5,649.9" fill="none" stroke="#000" stroke-width="1.8"/>
<polygon points="938.0,642 945.5,634.5 953.0,642 945.5,649.5" fill="none" stroke="#000" stroke-width="1.8"/>
<polygon points="970.0,639.5 977.5,632.0 985.0,639.5 977.5,647.0" fill="none" stroke="#000" stroke-width="1.8"/>
<polygon points="1002.0,647.2 1009.5,639.7 1017.0,647.2 1009.5,654.7" fill="none" stroke="#000" stroke-width="1.8"/>
<polygon points="1034.0,633.8 1041.5,626.3 1049.0,633.8 1041.5,641.3" fill="none" stroke="#000" stroke-width="1.8"/>
<polygon points="1066.0,631.7 1073.5,624.2 1081.0,631.7 1073.5,639.2" fill="none" stroke="#000" stroke-width="1.8"/>
<polygon points="1098.0,631.2 1105.5,623.7 1113.0,631.2 1105.5,638.7" fill="none" stroke="#000" stroke-width="1.8"/>
<polygon points="1130.0,629.1 1137.5,621.6 1145.0,629.1 1137.5,636.6" fill="none" stroke="#000" stroke-width="1.8"/>
<line x1="657.50" y1="752.00" x2="657.50" y2="760.10" stroke="#000" stroke-width="1.7"/>
<line x1="653.30" y1="752.00" x2="661.70" y2="752.00" stroke="#000" stroke-width="1.7"/>
<line x1="689.50" y1="708.50" x2="689.50" y2="724.50" stroke="#000" stroke-width="1.7"/>
<line x1="685.30" y1="708.50" x2="693.70" y2="708.50" stroke="#000" stroke-width="1.7"/>
<line x1="721.50" y1="662.00" x2="721.50" y2="676.20" stroke="#000" stroke-width="1.7"/>
<line x1="717.30" y1="662.00" x2="725.70" y2="662.00" stroke="#000" stroke-width="1.7"/>
<line x1="753.50" y1="644.70" x2="753.50" y2="656.90" stroke="#000" stroke-width="1.7"/>
<line x1="749.30" y1="644.70" x2="757.70" y2="644.70" stroke="#000" stroke-width="1.7"/>
<line x1="785.50" y1="637.00" x2="785.50" y2="646.50" stroke="#000" stroke-width="1.7"/>
<line x1="781.30" y1="637.00" x2="789.70" y2="637.00" stroke="#000" stroke-width="1.7"/>
<line x1="817.50" y1="622.80" x2="817.50" y2="631.80" stroke="#000" stroke-width="1.7"/>
<line x1="813.30" y1="622.80" x2="821.70" y2="622.80" stroke="#000" stroke-width="1.7"/>
<line x1="849.50" y1="614.80" x2="849.50" y2="623.30" stroke="#000" stroke-width="1.7"/>
<line x1="845.30" y1="614.80" x2="853.70" y2="614.80" stroke="#000" stroke-width="1.7"/>
<line x1="881.50" y1="600.80" x2="881.50" y2="610.40" stroke="#000" stroke-width="1.7"/>
<line x1="877.30" y1="600.80" x2="885.70" y2="600.80" stroke="#000" stroke-width="1.7"/>
<line x1="913.50" y1="598.30" x2="913.50" y2="607.70" stroke="#000" stroke-width="1.7"/>
<line x1="909.30" y1="598.30" x2="917.70" y2="598.30" stroke="#000" stroke-width="1.7"/>
<line x1="945.50" y1="587.80" x2="945.50" y2="596.10" stroke="#000" stroke-width="1.7"/>
<line x1="941.30" y1="587.80" x2="949.70" y2="587.80" stroke="#000" stroke-width="1.7"/>
<line x1="977.50" y1="583.20" x2="977.50" y2="591.70" stroke="#000" stroke-width="1.7"/>
<line x1="973.30" y1="583.20" x2="981.70" y2="583.20" stroke="#000" stroke-width="1.7"/>
<line x1="1009.50" y1="579.30" x2="1009.50" y2="588.30" stroke="#000" stroke-width="1.7"/>
<line x1="1005.30" y1="579.30" x2="1013.70" y2="579.30" stroke="#000" stroke-width="1.7"/>
<line x1="1041.50" y1="578.00" x2="1041.50" y2="586.50" stroke="#000" stroke-width="1.7"/>
<line x1="1037.30" y1="578.00" x2="1045.70" y2="578.00" stroke="#000" stroke-width="1.7"/>
<line x1="1073.50" y1="571.60" x2="1073.50" y2="580.10" stroke="#000" stroke-width="1.7"/>
<line x1="1069.30" y1="571.60" x2="1077.70" y2="571.60" stroke="#000" stroke-width="1.7"/>
<line x1="1105.50" y1="562.80" x2="1105.50" y2="572.90" stroke="#000" stroke-width="1.7"/>
<line x1="1101.30" y1="562.80" x2="1109.70" y2="562.80" stroke="#000" stroke-width="1.7"/>
<line x1="1137.50" y1="565.10" x2="1137.50" y2="574.90" stroke="#000" stroke-width="1.7"/>
<line x1="1133.30" y1="565.10" x2="1141.70" y2="565.10" stroke="#000" stroke-width="1.7"/>
<polyline points="657.5,760.1 689.5,724.5 721.5,676.2 753.5,656.9 785.5,646.5 817.5,631.8 849.5,623.3 881.5,610.4 913.5,607.7 945.5,596.1 977.5,591.7 1009.5,588.3 1041.5,586.5 1073.5,580.1 1105.5,572.9 1137.5,574.9" fill="none" stroke="#000" stroke-width="1.8"/>
<polygon points="649.1,760.1 657.5,751.3000000000001 665.9,760.1 657.5,768.9" fill="#000"/>
<polygon points="681.1,724.5 689.5,715.7 697.9,724.5 689.5,733.3" fill="#000"/>
<polygon points="713.1,676.2 721.5,667.4000000000001 729.9,676.2 721.5,685.0" fill="#000"/>
<polygon points="745.1,656.9 753.5,648.1 761.9,656.9 753.5,665.6999999999999" fill="#000"/>
<polygon points="777.1,646.5 785.5,637.7 793.9,646.5 785.5,655.3" fill="#000"/>
<polygon points="809.1,631.8 817.5,623.0 825.9,631.8 817.5,640.5999999999999" fill="#000"/>
<polygon points="841.1,623.3 849.5,614.5 857.9,623.3 849.5,632.0999999999999" fill="#000"/>
<polygon points="873.1,610.4 881.5,601.6 889.9,610.4 881.5,619.1999999999999" fill="#000"/>
<polygon points="905.1,607.7 913.5,598.9000000000001 921.9,607.7 913.5,616.5" fill="#000"/>
<polygon points="937.1,596.1 945.5,587.3000000000001 953.9,596.1 945.5,604.9" fill="#000"/>
<polygon points="969.1,591.7 977.5,582.9000000000001 985.9,591.7 977.5,600.5" fill="#000"/>
<polygon points="1001.1,588.3 1009.5,579.5 1017.9,588.3 1009.5,597.0999999999999" fill="#000"/>
<polygon points="1033.1,586.5 1041.5,577.7 1049.9,586.5 1041.5,595.3" fill="#000"/>
<polygon points="1065.1,580.1 1073.5,571.3000000000001 1081.9,580.1 1073.5,588.9" fill="#000"/>
<polygon points="1097.1,572.9 1105.5,564.1 1113.9,572.9 1105.5,581.6999999999999" fill="#000"/>
<polygon points="1129.1,574.9 1137.5,566.1 1145.9,574.9 1137.5,583.6999999999999" fill="#000"/>
<line x1="657.50" y1="727.90" x2="657.50" y2="734.50" stroke="#000" stroke-width="1.7"/>
<line x1="653.30" y1="727.90" x2="661.70" y2="727.90" stroke="#000" stroke-width="1.7"/>
<line x1="689.50" y1="653.00" x2="689.50" y2="659.10" stroke="#000" stroke-width="1.7"/>
<line x1="685.30" y1="653.00" x2="693.70" y2="653.00" stroke="#000" stroke-width="1.7"/>
<line x1="717.30" y1="610.00" x2="725.70" y2="610.00" stroke="#000" stroke-width="1.7"/>
<line x1="749.30" y1="577.00" x2="757.70" y2="577.00" stroke="#000" stroke-width="1.7"/>
<line x1="781.30" y1="569.00" x2="789.70" y2="569.00" stroke="#000" stroke-width="1.7"/>
<line x1="813.30" y1="556.00" x2="821.70" y2="556.00" stroke="#000" stroke-width="1.7"/>
<line x1="845.30" y1="553.00" x2="853.70" y2="553.00" stroke="#000" stroke-width="1.7"/>
<line x1="881.50" y1="538.10" x2="881.50" y2="540.30" stroke="#000" stroke-width="1.7"/>
<line x1="877.30" y1="538.10" x2="885.70" y2="538.10" stroke="#000" stroke-width="1.7"/>
<line x1="913.50" y1="534.00" x2="913.50" y2="535.40" stroke="#000" stroke-width="1.7"/>
<line x1="909.30" y1="534.00" x2="917.70" y2="534.00" stroke="#000" stroke-width="1.7"/>
<line x1="945.50" y1="531.50" x2="945.50" y2="536.30" stroke="#000" stroke-width="1.7"/>
<line x1="941.30" y1="531.50" x2="949.70" y2="531.50" stroke="#000" stroke-width="1.7"/>
<line x1="977.50" y1="525.30" x2="977.50" y2="527.30" stroke="#000" stroke-width="1.7"/>
<line x1="973.30" y1="525.30" x2="981.70" y2="525.30" stroke="#000" stroke-width="1.7"/>
<line x1="1009.50" y1="518.60" x2="1009.50" y2="524.00" stroke="#000" stroke-width="1.7"/>
<line x1="1005.30" y1="518.60" x2="1013.70" y2="518.60" stroke="#000" stroke-width="1.7"/>
<line x1="1041.50" y1="525.90" x2="1041.50" y2="529.10" stroke="#000" stroke-width="1.7"/>
<line x1="1037.30" y1="525.90" x2="1045.70" y2="525.90" stroke="#000" stroke-width="1.7"/>
<line x1="1073.50" y1="518.90" x2="1073.50" y2="523.40" stroke="#000" stroke-width="1.7"/>
<line x1="1069.30" y1="518.90" x2="1077.70" y2="518.90" stroke="#000" stroke-width="1.7"/>
<line x1="1105.50" y1="516.00" x2="1105.50" y2="522.10" stroke="#000" stroke-width="1.7"/>
<line x1="1101.30" y1="516.00" x2="1109.70" y2="516.00" stroke="#000" stroke-width="1.7"/>
<line x1="1137.50" y1="513.00" x2="1137.50" y2="517.00" stroke="#000" stroke-width="1.7"/>
<line x1="1133.30" y1="513.00" x2="1141.70" y2="513.00" stroke="#000" stroke-width="1.7"/>
<polyline points="657.5,740.8 689.5,665.4 721.5,616.3 753.5,583.3 785.5,574.8 817.5,562.1 849.5,559.3 881.5,546.6 913.5,541.7 945.5,542.6 977.5,533.6 1009.5,530.3 1041.5,535.4 1073.5,529.7 1105.5,528.4 1137.5,523.3" fill="none" stroke="#000" stroke-width="1.8" stroke-dasharray="6 3.5"/>
<circle cx="657.5" cy="740.8" r="6.3" fill="none" stroke="#000" stroke-width="1.8"/>
<circle cx="689.5" cy="665.4" r="6.3" fill="none" stroke="#000" stroke-width="1.8"/>
<circle cx="721.5" cy="616.3" r="6.3" fill="none" stroke="#000" stroke-width="1.8"/>
<circle cx="753.5" cy="583.3" r="6.3" fill="none" stroke="#000" stroke-width="1.8"/>
<circle cx="785.5" cy="574.8" r="6.3" fill="none" stroke="#000" stroke-width="1.8"/>
<circle cx="817.5" cy="562.1" r="6.3" fill="none" stroke="#000" stroke-width="1.8"/>
<circle cx="849.5" cy="559.3" r="6.3" fill="none" stroke="#000" stroke-width="1.8"/>
<circle cx="881.5" cy="546.6" r="6.3" fill="none" stroke="#000" stroke-width="1.8"/>
<circle cx="913.5" cy="541.7" r="6.3" fill="none" stroke="#000" stroke-width="1.8"/>
<circle cx="945.5" cy="542.6" r="6.3" fill="none" stroke="#000" stroke-width="1.8"/>
<circle cx="977.5" cy="533.6" r="6.3" fill="none" stroke="#000" stroke-width="1.8"/>
<circle cx="1009.5" cy="530.3" r="6.3" fill="none" stroke="#000" stroke-width="1.8"/>
<circle cx="1041.5" cy="535.4" r="6.3" fill="none" stroke="#000" stroke-width="1.8"/>
<circle cx="1073.5" cy="529.7" r="6.3" fill="none" stroke="#000" stroke-width="1.8"/>
<circle cx="1105.5" cy="528.4" r="6.3" fill="none" stroke="#000" stroke-width="1.8"/>
<circle cx="1137.5" cy="523.3" r="6.3" fill="none" stroke="#000" stroke-width="1.8"/>
<line x1="657.50" y1="735.00" x2="657.50" y2="748.50" stroke="#000" stroke-width="1.7"/>
<line x1="653.30" y1="735.00" x2="661.70" y2="735.00" stroke="#000" stroke-width="1.7"/>
<line x1="689.50" y1="655.60" x2="689.50" y2="671.60" stroke="#000" stroke-width="1.7"/>
<line x1="685.30" y1="655.60" x2="693.70" y2="655.60" stroke="#000" stroke-width="1.7"/>
<line x1="721.50" y1="596.20" x2="721.50" y2="607.80" stroke="#000" stroke-width="1.7"/>
<line x1="717.30" y1="596.20" x2="725.70" y2="596.20" stroke="#000" stroke-width="1.7"/>
<line x1="753.50" y1="555.40" x2="753.50" y2="565.20" stroke="#000" stroke-width="1.7"/>
<line x1="749.30" y1="555.40" x2="757.70" y2="555.40" stroke="#000" stroke-width="1.7"/>
<line x1="785.50" y1="548.40" x2="785.50" y2="561.30" stroke="#000" stroke-width="1.7"/>
<line x1="781.30" y1="548.40" x2="789.70" y2="548.40" stroke="#000" stroke-width="1.7"/>
<line x1="817.50" y1="520.80" x2="817.50" y2="533.40" stroke="#000" stroke-width="1.7"/>
<line x1="813.30" y1="520.80" x2="821.70" y2="520.80" stroke="#000" stroke-width="1.7"/>
<line x1="849.50" y1="513.00" x2="849.50" y2="524.40" stroke="#000" stroke-width="1.7"/>
<line x1="845.30" y1="513.00" x2="853.70" y2="513.00" stroke="#000" stroke-width="1.7"/>
<line x1="881.50" y1="503.20" x2="881.50" y2="516.10" stroke="#000" stroke-width="1.7"/>
<line x1="877.30" y1="503.20" x2="885.70" y2="503.20" stroke="#000" stroke-width="1.7"/>
<line x1="913.50" y1="488.40" x2="913.50" y2="502.30" stroke="#000" stroke-width="1.7"/>
<line x1="909.30" y1="488.40" x2="917.70" y2="488.40" stroke="#000" stroke-width="1.7"/>
<line x1="945.50" y1="482.70" x2="945.50" y2="495.70" stroke="#000" stroke-width="1.7"/>
<line x1="941.30" y1="482.70" x2="949.70" y2="482.70" stroke="#000" stroke-width="1.7"/>
<line x1="977.50" y1="477.30" x2="977.50" y2="490.50" stroke="#000" stroke-width="1.7"/>
<line x1="973.30" y1="477.30" x2="981.70" y2="477.30" stroke="#000" stroke-width="1.7"/>
<line x1="1009.50" y1="475.50" x2="1009.50" y2="489.70" stroke="#000" stroke-width="1.7"/>
<line x1="1005.30" y1="475.50" x2="1013.70" y2="475.50" stroke="#000" stroke-width="1.7"/>
<line x1="1041.50" y1="468.00" x2="1041.50" y2="480.70" stroke="#000" stroke-width="1.7"/>
<line x1="1037.30" y1="468.00" x2="1045.70" y2="468.00" stroke="#000" stroke-width="1.7"/>
<line x1="1073.50" y1="461.30" x2="1073.50" y2="473.70" stroke="#000" stroke-width="1.7"/>
<line x1="1069.30" y1="461.30" x2="1077.70" y2="461.30" stroke="#000" stroke-width="1.7"/>
<line x1="1105.50" y1="451.00" x2="1105.50" y2="465.70" stroke="#000" stroke-width="1.7"/>
<line x1="1101.30" y1="451.00" x2="1109.70" y2="451.00" stroke="#000" stroke-width="1.7"/>
<line x1="1137.50" y1="454.30" x2="1137.50" y2="468.30" stroke="#000" stroke-width="1.7"/>
<line x1="1133.30" y1="454.30" x2="1141.70" y2="454.30" stroke="#000" stroke-width="1.7"/>
<polyline points="657.5,748.5 689.5,671.6 721.5,607.8 753.5,565.2 785.5,561.3 817.5,533.4 849.5,524.4 881.5,516.1 913.5,502.3 945.5,495.7 977.5,490.5 1009.5,489.7 1041.5,480.7 1073.5,473.7 1105.5,465.7 1137.5,468.3" fill="none" stroke="#000" stroke-width="1.8"/>
<circle cx="657.5" cy="748.5" r="7.2" fill="#000"/>
<circle cx="689.5" cy="671.6" r="7.2" fill="#000"/>
<circle cx="721.5" cy="607.8" r="7.2" fill="#000"/>
<circle cx="753.5" cy="565.2" r="7.2" fill="#000"/>
<circle cx="785.5" cy="561.3" r="7.2" fill="#000"/>
<circle cx="817.5" cy="533.4" r="7.2" fill="#000"/>
<circle cx="849.5" cy="524.4" r="7.2" fill="#000"/>
<circle cx="881.5" cy="516.1" r="7.2" fill="#000"/>
<circle cx="913.5" cy="502.3" r="7.2" fill="#000"/>
<circle cx="945.5" cy="495.7" r="7.2" fill="#000"/>
<circle cx="977.5" cy="490.5" r="7.2" fill="#000"/>
<circle cx="1009.5" cy="489.7" r="7.2" fill="#000"/>
<circle cx="1041.5" cy="480.7" r="7.2" fill="#000"/>
<circle cx="1073.5" cy="473.7" r="7.2" fill="#000"/>
<circle cx="1105.5" cy="465.7" r="7.2" fill="#000"/>
<circle cx="1137.5" cy="468.3" r="7.2" fill="#000"/>
<text x="947.10" y="535.03" font-size="28" text-anchor="middle" font-weight="bold">*</text>
<text x="1042.10" y="527.73" font-size="28" text-anchor="middle" font-weight="bold">*</text>
<text x="1075.50" y="521.33" font-size="28" text-anchor="middle" font-weight="bold">*</text>
<text x="1106.40" y="517.43" font-size="28" text-anchor="middle" font-weight="bold">*</text>
<text x="1138.20" y="514.13" font-size="28" text-anchor="middle" font-weight="bold">*</text>
<text x="882.00" y="647.63" font-size="28" text-anchor="middle" font-weight="bold">*</text>
<text x="912.80" y="639.53" font-size="28" text-anchor="middle" font-weight="bold">*</text>
<text x="947.10" y="636.73" font-size="28" text-anchor="middle" font-weight="bold">*</text>
<text x="978.10" y="632.33" font-size="28" text-anchor="middle" font-weight="bold">*</text>
<text x="1009.10" y="640.83" font-size="28" text-anchor="middle" font-weight="bold">*</text>
<text x="1042.70" y="627.13" font-size="28" text-anchor="middle" font-weight="bold">*</text>
<text x="1074.20" y="625.33" font-size="28" text-anchor="middle" font-weight="bold">*</text>
<text x="1106.40" y="624.13" font-size="28" text-anchor="middle" font-weight="bold">*</text>
<text x="1139.50" y="619.93" font-size="28" text-anchor="middle" font-weight="bold">*</text>
<rect x="911.2" y="522.2" width="4.8" height="4.8" fill="#000"/>
<rect x="974.9" y="513.4" width="4.8" height="4.8" fill="#000"/>
<rect x="848.2" y="540.9" width="4.8" height="4.8" fill="#000"/>
<rect x="848.2" y="634.3" width="4.8" height="4.8" fill="#000"/>
<line x1="1024.00" y1="676.80" x2="1061.80" y2="676.80" stroke="#000" stroke-width="1.8"/>
<circle cx="1042.3" cy="676.8" r="7.2" fill="#000"/>
<text x="1083.00" y="685.90" font-size="21" letter-spacing="1.2">M-LWT</text>
<line x1="1024.00" y1="706.43" x2="1036.00" y2="706.43" stroke="#000" stroke-width="1.8" stroke-dasharray="3.9 3.4"/>
<line x1="1061.80" y1="706.43" x2="1049.00" y2="706.43" stroke="#000" stroke-width="1.8" stroke-dasharray="3.9 3.4"/>
<line x1="1038.60" y1="706.43" x2="1046.00" y2="706.43" stroke="#000" stroke-width="1.8"/>
<circle cx="1042.3" cy="706.4" r="6.3" fill="none" stroke="#000" stroke-width="1.8"/>
<text x="1083.00" y="715.53" font-size="21" letter-spacing="1.2">M-LKO</text>
<line x1="1024.00" y1="736.06" x2="1061.80" y2="736.06" stroke="#000" stroke-width="1.8"/>
<polygon points="1033.9,736.1 1042.3,727.3000000000001 1050.7,736.1 1042.3,744.9" fill="#000"/>
<text x="1083.00" y="745.16" font-size="21" letter-spacing="1.2">F-LWT</text>
<line x1="1024.00" y1="765.69" x2="1036.00" y2="765.69" stroke="#000" stroke-width="1.8" stroke-dasharray="3.9 3.4"/>
<line x1="1061.80" y1="765.69" x2="1049.00" y2="765.69" stroke="#000" stroke-width="1.8" stroke-dasharray="3.9 3.4"/>
<line x1="1038.60" y1="765.69" x2="1046.00" y2="765.69" stroke="#000" stroke-width="1.8"/>
<polygon points="1034.8,765.7 1042.3,758.2 1049.8,765.7 1042.3,773.2" fill="none" stroke="#000" stroke-width="1.8"/>
<text x="1083.00" y="774.79" font-size="21" letter-spacing="1.2">F-LKO</text>
<line x1="162.12" y1="1009.00" x2="162.12" y2="1021.00" stroke="#000" stroke-width="1.8"/>
<line x1="156.38" y1="1009.00" x2="167.88" y2="1009.00" stroke="#000" stroke-width="1.8"/>
<rect x="150.50" y="1020.00" width="23.25" height="176.25" fill="#000"/>
<line x1="184.75" y1="1052.50" x2="184.75" y2="1058.00" stroke="#000" stroke-width="1.8"/>
<line x1="179.00" y1="1052.50" x2="190.50" y2="1052.50" stroke="#000" stroke-width="1.8"/>
<rect x="173.75" y="1057.90" width="21.10" height="138.35" fill="#fff" stroke="#000" stroke-width="1.8"/>
<line x1="229.62" y1="1036.25" x2="229.62" y2="1045.50" stroke="#000" stroke-width="1.8"/>
<line x1="223.88" y1="1036.25" x2="235.38" y2="1036.25" stroke="#000" stroke-width="1.8"/>
<rect x="218.00" y="1044.50" width="23.25" height="151.75" fill="#000"/>
<line x1="252.50" y1="1070.75" x2="252.50" y2="1078.50" stroke="#000" stroke-width="1.8"/>
<line x1="246.75" y1="1070.75" x2="258.25" y2="1070.75" stroke="#000" stroke-width="1.8"/>
<rect x="241.25" y="1078.40" width="21.60" height="117.85" fill="#fff" stroke="#000" stroke-width="1.8"/>
<line x1="139.50" y1="989.85" x2="139.50" y2="1197.15" stroke="#000" stroke-width="1.8"/>
<line x1="129.50" y1="1196.25" x2="276.30" y2="1196.25" stroke="#000" stroke-width="1.8"/>
<line x1="129.30" y1="1196.25" x2="139.50" y2="1196.25" stroke="#000" stroke-width="1.8"/>
<text x="119.50" y="1202.99" font-size="20.5" text-anchor="end">0</text>
<line x1="129.30" y1="1155.15" x2="139.50" y2="1155.15" stroke="#000" stroke-width="1.8"/>
<text x="119.50" y="1161.89" font-size="20.5" text-anchor="end">1</text>
<line x1="129.30" y1="1114.05" x2="139.50" y2="1114.05" stroke="#000" stroke-width="1.8"/>
<text x="119.50" y="1120.79" font-size="20.5" text-anchor="end">2</text>
<line x1="129.30" y1="1072.95" x2="139.50" y2="1072.95" stroke="#000" stroke-width="1.8"/>
<text x="119.50" y="1079.69" font-size="20.5" text-anchor="end">3</text>
<line x1="129.30" y1="1031.85" x2="139.50" y2="1031.85" stroke="#000" stroke-width="1.8"/>
<text x="119.50" y="1038.59" font-size="20.5" text-anchor="end">4</text>
<line x1="129.30" y1="990.75" x2="139.50" y2="990.75" stroke="#000" stroke-width="1.8"/>
<text x="119.50" y="997.49" font-size="20.5" text-anchor="end">5</text>
<line x1="173.25" y1="1196.25" x2="173.25" y2="1206.75" stroke="#000" stroke-width="1.8"/>
<text x="173.25" y="1232.45" font-size="20.5" text-anchor="middle">F</text>
<line x1="240.75" y1="1196.25" x2="240.75" y2="1206.75" stroke="#000" stroke-width="1.8"/>
<text x="240.75" y="1232.45" font-size="20.5" text-anchor="middle">M</text>
<text x="254.60" y="1070.50" font-size="30" text-anchor="middle" font-weight="bold">*</text>
<rect x="196.75" y="952" width="38.25" height="15" fill="#000"/>
<rect x="197.65" y="984.15" width="36.45" height="12.95" fill="#fff" stroke="#000" stroke-width="1.8"/>
<text x="255.50" y="968.00" font-size="20.5" letter-spacing="1.8">LWT</text>
<text x="255.50" y="998.75" font-size="20.5" letter-spacing="1.8">LKO</text>
<text x="60.00" y="1096.00" font-size="24.8" text-anchor="middle" transform="rotate(-90 60 1096)">Adipose/body</text>
<text x="89.70" y="1096.60" font-size="24.8" text-anchor="middle" letter-spacing="0.27" transform="rotate(-90 89.7 1096.6)">weight ratio [%]</text>
<line x1="438.50" y1="1085.50" x2="438.50" y2="1090.25" stroke="#000" stroke-width="1.8"/>
<line x1="432.75" y1="1085.50" x2="444.25" y2="1085.50" stroke="#000" stroke-width="1.8"/>
<rect x="427.00" y="1089.25" width="23.00" height="108.25" fill="#000"/>
<line x1="461.50" y1="1013.75" x2="461.50" y2="1023.50" stroke="#000" stroke-width="1.8"/>
<line x1="455.75" y1="1013.75" x2="467.25" y2="1013.75" stroke="#000" stroke-width="1.8"/>
<rect x="450.00" y="1023.40" width="22.10" height="174.10" fill="#fff" stroke="#000" stroke-width="1.8"/>
<line x1="506.38" y1="1083.75" x2="506.38" y2="1088.00" stroke="#000" stroke-width="1.8"/>
<line x1="500.62" y1="1083.75" x2="512.12" y2="1083.75" stroke="#000" stroke-width="1.8"/>
<rect x="494.50" y="1087.00" width="23.75" height="110.50" fill="#000"/>
<line x1="529.38" y1="1022.50" x2="529.38" y2="1032.25" stroke="#000" stroke-width="1.8"/>
<line x1="523.62" y1="1022.50" x2="535.12" y2="1022.50" stroke="#000" stroke-width="1.8"/>
<rect x="518.25" y="1032.15" width="21.35" height="165.35" fill="#fff" stroke="#000" stroke-width="1.8"/>
<line x1="417.00" y1="992.85" x2="417.00" y2="1198.40" stroke="#000" stroke-width="1.8"/>
<line x1="406.25" y1="1197.50" x2="553.00" y2="1197.50" stroke="#000" stroke-width="1.8"/>
<line x1="406.80" y1="1197.50" x2="417.00" y2="1197.50" stroke="#000" stroke-width="1.8"/>
<text x="396.60" y="1204.24" font-size="20.5" text-anchor="end">0</text>
<line x1="406.80" y1="1146.56" x2="417.00" y2="1146.56" stroke="#000" stroke-width="1.8"/>
<text x="396.60" y="1153.30" font-size="20.5" text-anchor="end">2</text>
<line x1="406.80" y1="1095.62" x2="417.00" y2="1095.62" stroke="#000" stroke-width="1.8"/>
<text x="396.60" y="1102.36" font-size="20.5" text-anchor="end">4</text>
<line x1="406.80" y1="1044.69" x2="417.00" y2="1044.69" stroke="#000" stroke-width="1.8"/>
<text x="396.60" y="1051.43" font-size="20.5" text-anchor="end">6</text>
<line x1="406.80" y1="993.75" x2="417.00" y2="993.75" stroke="#000" stroke-width="1.8"/>
<text x="396.60" y="1000.49" font-size="20.5" text-anchor="end">8</text>
<line x1="449.50" y1="1197.50" x2="449.50" y2="1208.00" stroke="#000" stroke-width="1.8"/>
<text x="449.50" y="1233.70" font-size="20.5" text-anchor="middle">F</text>
<line x1="518.00" y1="1197.50" x2="518.00" y2="1208.00" stroke="#000" stroke-width="1.8"/>
<text x="518.00" y="1233.70" font-size="20.5" text-anchor="middle">M</text>
<text x="463.75" y="1012.60" font-size="30" text-anchor="middle" font-weight="bold">*</text>
<text x="530.90" y="1023.50" font-size="30" text-anchor="middle" font-weight="bold">*</text>
<text x="336.30" y="1097.90" font-size="24.8" text-anchor="middle" transform="rotate(-90 336.3 1097.9)">Liver/body</text>
<text x="366.30" y="1098.10" font-size="24.8" text-anchor="middle" letter-spacing="0.27" transform="rotate(-90 366.3 1098.1)">weight ratio [%]</text>
<line x1="739.12" y1="1062.50" x2="739.12" y2="1067.75" stroke="#000" stroke-width="1.8"/>
<line x1="733.38" y1="1062.50" x2="744.88" y2="1062.50" stroke="#000" stroke-width="1.8"/>
<rect x="727.50" y="1066.75" width="23.25" height="130.75" fill="#000"/>
<line x1="762.25" y1="1032.50" x2="762.25" y2="1046.00" stroke="#000" stroke-width="1.8"/>
<line x1="756.50" y1="1032.50" x2="768.00" y2="1032.50" stroke="#000" stroke-width="1.8"/>
<rect x="750.75" y="1045.90" width="22.10" height="151.60" fill="#fff" stroke="#000" stroke-width="1.8"/>
<line x1="807.38" y1="1083.75" x2="807.38" y2="1088.50" stroke="#000" stroke-width="1.8"/>
<line x1="801.62" y1="1083.75" x2="813.12" y2="1083.75" stroke="#000" stroke-width="1.8"/>
<rect x="795.50" y="1087.50" width="23.75" height="110.00" fill="#000"/>
<line x1="830.25" y1="1038.25" x2="830.25" y2="1048.50" stroke="#000" stroke-width="1.8"/>
<line x1="824.50" y1="1038.25" x2="836.00" y2="1038.25" stroke="#000" stroke-width="1.8"/>
<rect x="819.25" y="1048.40" width="21.10" height="149.10" fill="#fff" stroke="#000" stroke-width="1.8"/>
<line x1="717.50" y1="992.85" x2="717.50" y2="1198.40" stroke="#000" stroke-width="1.8"/>
<line x1="706.75" y1="1197.50" x2="853.75" y2="1197.50" stroke="#000" stroke-width="1.8"/>
<line x1="707.30" y1="1197.50" x2="717.50" y2="1197.50" stroke="#000" stroke-width="1.8"/>
<text x="698.20" y="1204.24" font-size="20.5" text-anchor="end" letter-spacing="1.1">0.0</text>
<line x1="707.30" y1="1156.75" x2="717.50" y2="1156.75" stroke="#000" stroke-width="1.8"/>
<text x="698.20" y="1163.49" font-size="20.5" text-anchor="end" letter-spacing="1.1">0.1</text>
<line x1="707.30" y1="1116.00" x2="717.50" y2="1116.00" stroke="#000" stroke-width="1.8"/>
<text x="698.20" y="1122.74" font-size="20.5" text-anchor="end" letter-spacing="1.1">0.2</text>
<line x1="707.30" y1="1075.25" x2="717.50" y2="1075.25" stroke="#000" stroke-width="1.8"/>
<text x="698.20" y="1081.99" font-size="20.5" text-anchor="end" letter-spacing="1.1">0.3</text>
<line x1="707.30" y1="1034.50" x2="717.50" y2="1034.50" stroke="#000" stroke-width="1.8"/>
<text x="698.20" y="1041.24" font-size="20.5" text-anchor="end" letter-spacing="1.1">0.4</text>
<line x1="707.30" y1="993.75" x2="717.50" y2="993.75" stroke="#000" stroke-width="1.8"/>
<text x="698.20" y="1000.49" font-size="20.5" text-anchor="end" letter-spacing="1.1">0.5</text>
<line x1="750.50" y1="1197.50" x2="750.50" y2="1208.00" stroke="#000" stroke-width="1.8"/>
<text x="750.50" y="1233.70" font-size="20.5" text-anchor="middle">F</text>
<line x1="818.75" y1="1197.50" x2="818.75" y2="1208.00" stroke="#000" stroke-width="1.8"/>
<text x="818.75" y="1233.70" font-size="20.5" text-anchor="middle">M</text>
<text x="831.90" y="1038.25" font-size="30" text-anchor="middle" font-weight="bold">*</text>
<text x="617.00" y="1098.00" font-size="24.8" text-anchor="middle" transform="rotate(-90 617 1098)">Spleen/body</text>
<text x="646.30" y="1098.00" font-size="24.8" text-anchor="middle" letter-spacing="0.27" transform="rotate(-90 646.3 1098)">weight ratio [%]</text>
<line x1="1020.88" y1="1043.75" x2="1020.88" y2="1049.75" stroke="#000" stroke-width="1.8"/>
<line x1="1015.12" y1="1043.75" x2="1026.62" y2="1043.75" stroke="#000" stroke-width="1.8"/>
<rect x="1009.25" y="1048.75" width="23.25" height="148.00" fill="#000"/>
<line x1="1043.75" y1="1060.75" x2="1043.75" y2="1067.75" stroke="#000" stroke-width="1.8"/>
<line x1="1038.00" y1="1060.75" x2="1049.50" y2="1060.75" stroke="#000" stroke-width="1.8"/>
<rect x="1032.50" y="1067.65" width="21.60" height="129.10" fill="#fff" stroke="#000" stroke-width="1.8"/>
<line x1="1089.12" y1="1041.75" x2="1089.12" y2="1046.50" stroke="#000" stroke-width="1.8"/>
<line x1="1083.38" y1="1041.75" x2="1094.88" y2="1041.75" stroke="#000" stroke-width="1.8"/>
<rect x="1077.50" y="1045.50" width="23.25" height="151.25" fill="#000"/>
<line x1="1111.62" y1="1051.25" x2="1111.62" y2="1056.75" stroke="#000" stroke-width="1.8"/>
<line x1="1105.88" y1="1051.25" x2="1117.38" y2="1051.25" stroke="#000" stroke-width="1.8"/>
<rect x="1100.75" y="1056.65" width="20.85" height="140.10" fill="#fff" stroke="#000" stroke-width="1.8"/>
<line x1="998.75" y1="992.35" x2="998.75" y2="1197.65" stroke="#000" stroke-width="1.8"/>
<line x1="988.00" y1="1196.75" x2="1135.00" y2="1196.75" stroke="#000" stroke-width="1.8"/>
<line x1="988.55" y1="1196.75" x2="998.75" y2="1196.75" stroke="#000" stroke-width="1.8"/>
<text x="979.45" y="1203.49" font-size="20.5" text-anchor="end" letter-spacing="1.1">0.0</text>
<line x1="988.55" y1="1145.88" x2="998.75" y2="1145.88" stroke="#000" stroke-width="1.8"/>
<text x="979.45" y="1152.61" font-size="20.5" text-anchor="end" letter-spacing="1.1">0.2</text>
<line x1="988.55" y1="1095.00" x2="998.75" y2="1095.00" stroke="#000" stroke-width="1.8"/>
<text x="979.45" y="1101.74" font-size="20.5" text-anchor="end" letter-spacing="1.1">0.4</text>
<line x1="988.55" y1="1044.12" x2="998.75" y2="1044.12" stroke="#000" stroke-width="1.8"/>
<text x="979.45" y="1050.86" font-size="20.5" text-anchor="end" letter-spacing="1.1">0.6</text>
<line x1="988.55" y1="993.25" x2="998.75" y2="993.25" stroke="#000" stroke-width="1.8"/>
<text x="979.45" y="999.99" font-size="20.5" text-anchor="end" letter-spacing="1.1">0.8</text>
<line x1="1032.00" y1="1196.75" x2="1032.00" y2="1207.25" stroke="#000" stroke-width="1.8"/>
<text x="1032.00" y="1232.95" font-size="20.5" text-anchor="middle">F</text>
<line x1="1100.00" y1="1196.75" x2="1100.00" y2="1207.25" stroke="#000" stroke-width="1.8"/>
<text x="1100.00" y="1232.95" font-size="20.5" text-anchor="middle">M</text>
<rect x="1042.5" y="1045.8" width="5" height="5" fill="#000"/>
<text x="898.80" y="1096.30" font-size="24.8" text-anchor="middle" transform="rotate(-90 898.8 1096.3)">Heart/body</text>
<text x="928.80" y="1098.00" font-size="24.8" text-anchor="middle" letter-spacing="0.27" transform="rotate(-90 928.8 1098)">weight ratio [%]</text>
</svg></body></html>
